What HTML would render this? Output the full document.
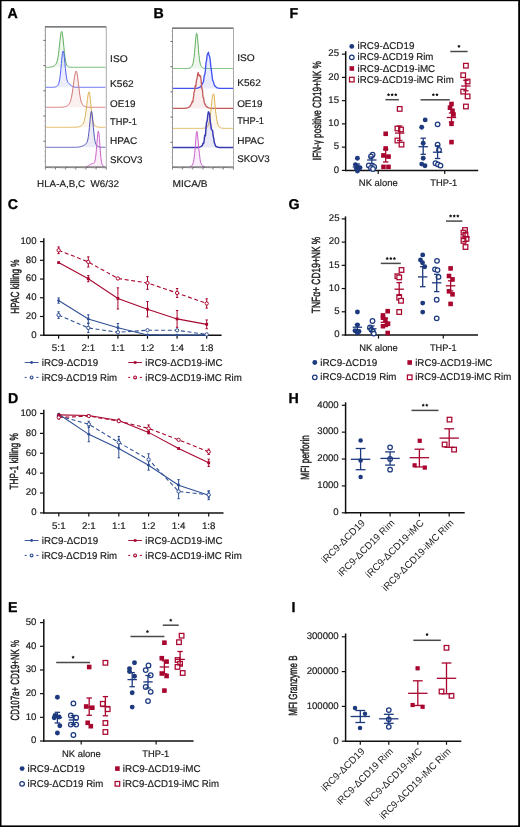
<!DOCTYPE html>
<html><head><meta charset="utf-8"><style>
html,body{margin:0;padding:0;background:#fff;}
svg{display:block;will-change:transform;}
text{font-family:"Liberation Sans", sans-serif;text-rendering:geometricPrecision;}
</style></head><body>
<svg width="520" height="827" viewBox="0 0 520 827">
<rect x="0" y="0" width="520" height="827" fill="#fff"/>
<text x="7.6" y="18.2" font-size="14.2" text-anchor="start" font-weight="bold" fill="#000" stroke="#000" stroke-width="0.3">A</text>
<path d="M45.9,67.29 L46.4,67.29 L46.9,67.29 L47.4,67.28 L47.9,67.27 L48.4,67.25 L48.9,67.23 L49.4,67.2 L49.9,67.16 L50.4,67.11 L50.9,67.04 L51.4,66.94 L51.9,66.83 L52.4,66.68 L52.9,66.5 L53.4,66.27 L53.9,66 L54.4,65.67 L54.9,65.27 L55.4,64.76 L55.9,64.1 L56.4,63.19 L56.9,61.94 L57.4,60.18 L57.9,57.78 L58.4,54.63 L58.9,50.73 L59.4,46.24 L59.9,41.52 L60.4,37.12 L60.9,33.64 L61.4,31.64 L61.9,31.48 L62.4,33.4 L62.9,37.12 L63.4,41.97 L63.9,47.22 L64.4,52.21 L64.9,56.49 L65.4,59.88 L65.9,62.37 L66.4,64.1 L66.9,65.26 L67.4,66.01 L67.9,66.48 L68.4,66.79 L68.9,66.98 L69.4,67.1 L69.9,67.18 L70.4,67.23 L70.9,67.26 L71.4,67.28 L71.9,67.29 L72.4,67.29 L72.9,67.3 L73.4,67.3 L73.9,67.3 L74.4,67.3 L74.9,67.3 L75.4,67.3 L75.9,67.3 L76.4,67.3 L76.9,67.3 L77.4,67.3 L77.9,67.3 L78.4,67.3 L78.9,67.3 L79.4,67.3 L79.9,67.3 L80.4,67.3 L80.9,67.3 L81.4,67.3 L81.9,67.3 L82.4,67.3 L82.9,67.3 L83.4,67.3 L83.9,67.3 L84.4,67.3 L84.9,67.3 L85.4,67.3 L85.9,67.3 L86.4,67.3 L86.9,67.3 L87.4,67.3 L87.9,67.3 L88.4,67.3 L88.9,67.3 L89.4,67.3 L89.9,67.3 L90.4,67.3 L90.9,67.3 L91.4,67.3 L91.9,67.3 L92.4,67.3 L92.9,67.3 L93.4,67.3 L93.9,67.3 L94.4,67.3 L94.9,67.3 L95.4,67.3 L95.9,67.3 L96.4,67.3 L96.9,67.3 L97.4,67.3 L97.9,67.3 L98.4,67.3 L98.9,67.3 L99.4,67.3 L99.9,67.3 L100.4,67.3 L100.9,67.3 L101.4,67.3 L101.9,67.3 L102.4,67.3 L102.9,67.3 L103.4,67.3 L103.9,67.3 L104.4,67.3 L104.9,67.3 L105.4,67.3 L105.4,67.3 L45.9,67.3 Z" fill="#60b060" fill-opacity="0.11" stroke="none"/>
<path d="M45.9,67.29 L46.4,67.29 L46.9,67.29 L47.4,67.28 L47.9,67.27 L48.4,67.25 L48.9,67.23 L49.4,67.2 L49.9,67.16 L50.4,67.11 L50.9,67.04 L51.4,66.94 L51.9,66.83 L52.4,66.68 L52.9,66.5 L53.4,66.27 L53.9,66 L54.4,65.67 L54.9,65.27 L55.4,64.76 L55.9,64.1 L56.4,63.19 L56.9,61.94 L57.4,60.18 L57.9,57.78 L58.4,54.63 L58.9,50.73 L59.4,46.24 L59.9,41.52 L60.4,37.12 L60.9,33.64 L61.4,31.64 L61.9,31.48 L62.4,33.4 L62.9,37.12 L63.4,41.97 L63.9,47.22 L64.4,52.21 L64.9,56.49 L65.4,59.88 L65.9,62.37 L66.4,64.1 L66.9,65.26 L67.4,66.01 L67.9,66.48 L68.4,66.79 L68.9,66.98 L69.4,67.1 L69.9,67.18 L70.4,67.23 L70.9,67.26 L71.4,67.28 L71.9,67.29 L72.4,67.29 L72.9,67.3 L73.4,67.3 L73.9,67.3 L74.4,67.3 L74.9,67.3 L75.4,67.3 L75.9,67.3 L76.4,67.3 L76.9,67.3 L77.4,67.3 L77.9,67.3 L78.4,67.3 L78.9,67.3 L79.4,67.3 L79.9,67.3 L80.4,67.3 L80.9,67.3 L81.4,67.3 L81.9,67.3 L82.4,67.3 L82.9,67.3 L83.4,67.3 L83.9,67.3 L84.4,67.3 L84.9,67.3 L85.4,67.3 L85.9,67.3 L86.4,67.3 L86.9,67.3 L87.4,67.3 L87.9,67.3 L88.4,67.3 L88.9,67.3 L89.4,67.3 L89.9,67.3 L90.4,67.3 L90.9,67.3 L91.4,67.3 L91.9,67.3 L92.4,67.3 L92.9,67.3 L93.4,67.3 L93.9,67.3 L94.4,67.3 L94.9,67.3 L95.4,67.3 L95.9,67.3 L96.4,67.3 L96.9,67.3 L97.4,67.3 L97.9,67.3 L98.4,67.3 L98.9,67.3 L99.4,67.3 L99.9,67.3 L100.4,67.3 L100.9,67.3 L101.4,67.3 L101.9,67.3 L102.4,67.3 L102.9,67.3 L103.4,67.3 L103.9,67.3 L104.4,67.3 L104.9,67.3 L105.4,67.3" fill="none" stroke="#60b060" stroke-width="1.0" stroke-linejoin="round"/>
<path d="M45.9,87.3 L46.4,87.3 L46.9,87.3 L47.4,87.3 L47.9,87.3 L48.4,87.3 L48.9,87.3 L49.4,87.3 L49.9,87.3 L50.4,87.3 L50.9,87.3 L51.4,87.3 L51.9,87.29 L52.4,87.28 L52.9,87.27 L53.4,87.25 L53.9,87.22 L54.4,87.17 L54.9,87.1 L55.4,86.99 L55.9,86.84 L56.4,86.63 L56.9,86.33 L57.4,85.92 L57.9,85.32 L58.4,84.44 L58.9,83.11 L59.4,81.1 L59.9,78.18 L60.4,74.19 L60.9,69.16 L61.4,63.51 L61.9,57.99 L62.4,53.58 L62.9,51.21 L63.4,51.37 L63.9,53.83 L64.4,58.04 L64.9,63.18 L65.4,68.39 L65.9,73.02 L66.4,76.7 L66.9,79.38 L67.4,81.17 L67.9,82.33 L68.4,83.07 L68.9,83.59 L69.4,84.01 L69.9,84.41 L70.4,84.81 L70.9,85.21 L71.4,85.61 L71.9,85.98 L72.4,86.31 L72.9,86.58 L73.4,86.8 L73.9,86.97 L74.4,87.09 L74.9,87.17 L75.4,87.22 L75.9,87.26 L76.4,87.28 L76.9,87.29 L77.4,87.29 L77.9,87.3 L78.4,87.3 L78.9,87.3 L79.4,87.3 L79.9,87.3 L80.4,87.3 L80.9,87.3 L81.4,87.3 L81.9,87.3 L82.4,87.3 L82.9,87.3 L83.4,87.3 L83.9,87.3 L84.4,87.3 L84.9,87.3 L85.4,87.3 L85.9,87.3 L86.4,87.3 L86.9,87.3 L87.4,87.3 L87.9,87.3 L88.4,87.3 L88.9,87.3 L89.4,87.3 L89.9,87.3 L90.4,87.3 L90.9,87.3 L91.4,87.3 L91.9,87.3 L92.4,87.3 L92.9,87.3 L93.4,87.3 L93.9,87.3 L94.4,87.3 L94.9,87.3 L95.4,87.3 L95.9,87.3 L96.4,87.3 L96.9,87.3 L97.4,87.3 L97.9,87.3 L98.4,87.3 L98.9,87.3 L99.4,87.3 L99.9,87.3 L100.4,87.3 L100.9,87.3 L101.4,87.3 L101.9,87.3 L102.4,87.3 L102.9,87.3 L103.4,87.3 L103.9,87.3 L104.4,87.3 L104.9,87.3 L105.4,87.3 L105.4,87.3 L45.9,87.3 Z" fill="#5060f2" fill-opacity="0.11" stroke="none"/>
<path d="M45.9,87.3 L46.4,87.3 L46.9,87.3 L47.4,87.3 L47.9,87.3 L48.4,87.3 L48.9,87.3 L49.4,87.3 L49.9,87.3 L50.4,87.3 L50.9,87.3 L51.4,87.3 L51.9,87.29 L52.4,87.28 L52.9,87.27 L53.4,87.25 L53.9,87.22 L54.4,87.17 L54.9,87.1 L55.4,86.99 L55.9,86.84 L56.4,86.63 L56.9,86.33 L57.4,85.92 L57.9,85.32 L58.4,84.44 L58.9,83.11 L59.4,81.1 L59.9,78.18 L60.4,74.19 L60.9,69.16 L61.4,63.51 L61.9,57.99 L62.4,53.58 L62.9,51.21 L63.4,51.37 L63.9,53.83 L64.4,58.04 L64.9,63.18 L65.4,68.39 L65.9,73.02 L66.4,76.7 L66.9,79.38 L67.4,81.17 L67.9,82.33 L68.4,83.07 L68.9,83.59 L69.4,84.01 L69.9,84.41 L70.4,84.81 L70.9,85.21 L71.4,85.61 L71.9,85.98 L72.4,86.31 L72.9,86.58 L73.4,86.8 L73.9,86.97 L74.4,87.09 L74.9,87.17 L75.4,87.22 L75.9,87.26 L76.4,87.28 L76.9,87.29 L77.4,87.29 L77.9,87.3 L78.4,87.3 L78.9,87.3 L79.4,87.3 L79.9,87.3 L80.4,87.3 L80.9,87.3 L81.4,87.3 L81.9,87.3 L82.4,87.3 L82.9,87.3 L83.4,87.3 L83.9,87.3 L84.4,87.3 L84.9,87.3 L85.4,87.3 L85.9,87.3 L86.4,87.3 L86.9,87.3 L87.4,87.3 L87.9,87.3 L88.4,87.3 L88.9,87.3 L89.4,87.3 L89.9,87.3 L90.4,87.3 L90.9,87.3 L91.4,87.3 L91.9,87.3 L92.4,87.3 L92.9,87.3 L93.4,87.3 L93.9,87.3 L94.4,87.3 L94.9,87.3 L95.4,87.3 L95.9,87.3 L96.4,87.3 L96.9,87.3 L97.4,87.3 L97.9,87.3 L98.4,87.3 L98.9,87.3 L99.4,87.3 L99.9,87.3 L100.4,87.3 L100.9,87.3 L101.4,87.3 L101.9,87.3 L102.4,87.3 L102.9,87.3 L103.4,87.3 L103.9,87.3 L104.4,87.3 L104.9,87.3 L105.4,87.3" fill="none" stroke="#5060f2" stroke-width="1.0" stroke-linejoin="round"/>
<path d="M45.9,107.3 L46.4,107.3 L46.9,107.3 L47.4,107.3 L47.9,107.3 L48.4,107.3 L48.9,107.3 L49.4,107.3 L49.9,107.3 L50.4,107.3 L50.9,107.3 L51.4,107.3 L51.9,107.3 L52.4,107.3 L52.9,107.3 L53.4,107.3 L53.9,107.3 L54.4,107.3 L54.9,107.3 L55.4,107.3 L55.9,107.3 L56.4,107.3 L56.9,107.3 L57.4,107.29 L57.9,107.29 L58.4,107.29 L58.9,107.28 L59.4,107.28 L59.9,107.27 L60.4,107.26 L60.9,107.24 L61.4,107.22 L61.9,107.19 L62.4,107.15 L62.9,107.11 L63.4,107.05 L63.9,106.97 L64.4,106.88 L64.9,106.77 L65.4,106.63 L65.9,106.47 L66.4,106.26 L66.9,106.02 L67.4,105.72 L67.9,105.36 L68.4,104.9 L68.9,104.31 L69.4,103.55 L69.9,102.55 L70.4,101.26 L70.9,99.6 L71.4,97.52 L71.9,94.97 L72.4,91.96 L72.9,88.57 L73.4,84.92 L73.9,81.22 L74.4,77.74 L74.9,74.75 L75.4,72.53 L75.9,71.31 L76.4,71.23 L76.9,72.63 L77.4,75.4 L77.9,79.15 L78.4,83.43 L78.9,87.79 L79.4,91.84 L79.9,95.37 L80.4,98.25 L80.9,100.5 L81.4,102.19 L81.9,103.43 L82.4,104.34 L82.9,105.02 L83.4,105.52 L83.9,105.91 L84.4,106.22 L84.9,106.46 L85.4,106.65 L85.9,106.81 L86.4,106.93 L86.9,107.03 L87.4,107.1 L87.9,107.16 L88.4,107.2 L88.9,107.23 L89.4,107.25 L89.9,107.27 L90.4,107.28 L90.9,107.29 L91.4,107.29 L91.9,107.29 L92.4,107.3 L92.9,107.3 L93.4,107.3 L93.9,107.3 L94.4,107.3 L94.9,107.3 L95.4,107.3 L95.9,107.3 L96.4,107.3 L96.9,107.3 L97.4,107.3 L97.9,107.3 L98.4,107.3 L98.9,107.3 L99.4,107.3 L99.9,107.3 L100.4,107.3 L100.9,107.3 L101.4,107.3 L101.9,107.3 L102.4,107.3 L102.9,107.3 L103.4,107.3 L103.9,107.3 L104.4,107.3 L104.9,107.3 L105.4,107.3 L105.4,107.3 L45.9,107.3 Z" fill="#d27474" fill-opacity="0.11" stroke="none"/>
<path d="M45.9,107.3 L46.4,107.3 L46.9,107.3 L47.4,107.3 L47.9,107.3 L48.4,107.3 L48.9,107.3 L49.4,107.3 L49.9,107.3 L50.4,107.3 L50.9,107.3 L51.4,107.3 L51.9,107.3 L52.4,107.3 L52.9,107.3 L53.4,107.3 L53.9,107.3 L54.4,107.3 L54.9,107.3 L55.4,107.3 L55.9,107.3 L56.4,107.3 L56.9,107.3 L57.4,107.29 L57.9,107.29 L58.4,107.29 L58.9,107.28 L59.4,107.28 L59.9,107.27 L60.4,107.26 L60.9,107.24 L61.4,107.22 L61.9,107.19 L62.4,107.15 L62.9,107.11 L63.4,107.05 L63.9,106.97 L64.4,106.88 L64.9,106.77 L65.4,106.63 L65.9,106.47 L66.4,106.26 L66.9,106.02 L67.4,105.72 L67.9,105.36 L68.4,104.9 L68.9,104.31 L69.4,103.55 L69.9,102.55 L70.4,101.26 L70.9,99.6 L71.4,97.52 L71.9,94.97 L72.4,91.96 L72.9,88.57 L73.4,84.92 L73.9,81.22 L74.4,77.74 L74.9,74.75 L75.4,72.53 L75.9,71.31 L76.4,71.23 L76.9,72.63 L77.4,75.4 L77.9,79.15 L78.4,83.43 L78.9,87.79 L79.4,91.84 L79.9,95.37 L80.4,98.25 L80.9,100.5 L81.4,102.19 L81.9,103.43 L82.4,104.34 L82.9,105.02 L83.4,105.52 L83.9,105.91 L84.4,106.22 L84.9,106.46 L85.4,106.65 L85.9,106.81 L86.4,106.93 L86.9,107.03 L87.4,107.1 L87.9,107.16 L88.4,107.2 L88.9,107.23 L89.4,107.25 L89.9,107.27 L90.4,107.28 L90.9,107.29 L91.4,107.29 L91.9,107.29 L92.4,107.3 L92.9,107.3 L93.4,107.3 L93.9,107.3 L94.4,107.3 L94.9,107.3 L95.4,107.3 L95.9,107.3 L96.4,107.3 L96.9,107.3 L97.4,107.3 L97.9,107.3 L98.4,107.3 L98.9,107.3 L99.4,107.3 L99.9,107.3 L100.4,107.3 L100.9,107.3 L101.4,107.3 L101.9,107.3 L102.4,107.3 L102.9,107.3 L103.4,107.3 L103.9,107.3 L104.4,107.3 L104.9,107.3 L105.4,107.3" fill="none" stroke="#d27474" stroke-width="1.0" stroke-linejoin="round"/>
<path d="M45.9,127.3 L46.4,127.3 L46.9,127.3 L47.4,127.3 L47.9,127.3 L48.4,127.3 L48.9,127.3 L49.4,127.3 L49.9,127.3 L50.4,127.3 L50.9,127.3 L51.4,127.3 L51.9,127.3 L52.4,127.3 L52.9,127.3 L53.4,127.3 L53.9,127.3 L54.4,127.3 L54.9,127.3 L55.4,127.3 L55.9,127.3 L56.4,127.3 L56.9,127.3 L57.4,127.3 L57.9,127.3 L58.4,127.3 L58.9,127.3 L59.4,127.3 L59.9,127.3 L60.4,127.3 L60.9,127.3 L61.4,127.3 L61.9,127.3 L62.4,127.3 L62.9,127.3 L63.4,127.3 L63.9,127.3 L64.4,127.3 L64.9,127.3 L65.4,127.3 L65.9,127.3 L66.4,127.3 L66.9,127.3 L67.4,127.3 L67.9,127.3 L68.4,127.3 L68.9,127.3 L69.4,127.3 L69.9,127.3 L70.4,127.3 L70.9,127.3 L71.4,127.3 L71.9,127.3 L72.4,127.29 L72.9,127.29 L73.4,127.29 L73.9,127.28 L74.4,127.27 L74.9,127.26 L75.4,127.24 L75.9,127.22 L76.4,127.19 L76.9,127.15 L77.4,127.09 L77.9,127.02 L78.4,126.93 L78.9,126.82 L79.4,126.67 L79.9,126.5 L80.4,126.28 L80.9,126.02 L81.4,125.7 L81.9,125.3 L82.4,124.8 L82.9,124.13 L83.4,123.24 L83.9,122.03 L84.4,120.39 L84.9,118.21 L85.4,115.41 L85.9,111.99 L86.4,108.04 L86.9,103.81 L87.4,99.64 L87.9,95.98 L88.4,93.29 L88.9,91.92 L89.4,92.27 L89.9,94.97 L90.4,99.5 L90.9,104.92 L91.4,110.28 L91.9,114.93 L92.4,118.55 L92.9,121.16 L93.4,122.95 L93.9,124.15 L94.4,124.97 L94.9,125.56 L95.4,125.99 L95.9,126.33 L96.4,126.59 L96.9,126.79 L97.4,126.94 L97.9,127.05 L98.4,127.13 L98.9,127.19 L99.4,127.23 L99.9,127.25 L100.4,127.27 L100.9,127.28 L101.4,127.29 L101.9,127.29 L102.4,127.3 L102.9,127.3 L103.4,127.3 L103.9,127.3 L104.4,127.3 L104.9,127.3 L105.4,127.3 L105.4,127.3 L45.9,127.3 Z" fill="#dfb255" fill-opacity="0.11" stroke="none"/>
<path d="M45.9,127.3 L46.4,127.3 L46.9,127.3 L47.4,127.3 L47.9,127.3 L48.4,127.3 L48.9,127.3 L49.4,127.3 L49.9,127.3 L50.4,127.3 L50.9,127.3 L51.4,127.3 L51.9,127.3 L52.4,127.3 L52.9,127.3 L53.4,127.3 L53.9,127.3 L54.4,127.3 L54.9,127.3 L55.4,127.3 L55.9,127.3 L56.4,127.3 L56.9,127.3 L57.4,127.3 L57.9,127.3 L58.4,127.3 L58.9,127.3 L59.4,127.3 L59.9,127.3 L60.4,127.3 L60.9,127.3 L61.4,127.3 L61.9,127.3 L62.4,127.3 L62.9,127.3 L63.4,127.3 L63.9,127.3 L64.4,127.3 L64.9,127.3 L65.4,127.3 L65.9,127.3 L66.4,127.3 L66.9,127.3 L67.4,127.3 L67.9,127.3 L68.4,127.3 L68.9,127.3 L69.4,127.3 L69.9,127.3 L70.4,127.3 L70.9,127.3 L71.4,127.3 L71.9,127.3 L72.4,127.29 L72.9,127.29 L73.4,127.29 L73.9,127.28 L74.4,127.27 L74.9,127.26 L75.4,127.24 L75.9,127.22 L76.4,127.19 L76.9,127.15 L77.4,127.09 L77.9,127.02 L78.4,126.93 L78.9,126.82 L79.4,126.67 L79.9,126.5 L80.4,126.28 L80.9,126.02 L81.4,125.7 L81.9,125.3 L82.4,124.8 L82.9,124.13 L83.4,123.24 L83.9,122.03 L84.4,120.39 L84.9,118.21 L85.4,115.41 L85.9,111.99 L86.4,108.04 L86.9,103.81 L87.4,99.64 L87.9,95.98 L88.4,93.29 L88.9,91.92 L89.4,92.27 L89.9,94.97 L90.4,99.5 L90.9,104.92 L91.4,110.28 L91.9,114.93 L92.4,118.55 L92.9,121.16 L93.4,122.95 L93.9,124.15 L94.4,124.97 L94.9,125.56 L95.4,125.99 L95.9,126.33 L96.4,126.59 L96.9,126.79 L97.4,126.94 L97.9,127.05 L98.4,127.13 L98.9,127.19 L99.4,127.23 L99.9,127.25 L100.4,127.27 L100.9,127.28 L101.4,127.29 L101.9,127.29 L102.4,127.3 L102.9,127.3 L103.4,127.3 L103.9,127.3 L104.4,127.3 L104.9,127.3 L105.4,127.3" fill="none" stroke="#dfb255" stroke-width="1.0" stroke-linejoin="round"/>
<path d="M45.9,147.3 L46.4,147.3 L46.9,147.3 L47.4,147.3 L47.9,147.3 L48.4,147.3 L48.9,147.3 L49.4,147.3 L49.9,147.3 L50.4,147.3 L50.9,147.3 L51.4,147.3 L51.9,147.3 L52.4,147.3 L52.9,147.3 L53.4,147.3 L53.9,147.3 L54.4,147.3 L54.9,147.3 L55.4,147.3 L55.9,147.3 L56.4,147.3 L56.9,147.3 L57.4,147.3 L57.9,147.3 L58.4,147.3 L58.9,147.3 L59.4,147.3 L59.9,147.3 L60.4,147.3 L60.9,147.3 L61.4,147.3 L61.9,147.3 L62.4,147.3 L62.9,147.3 L63.4,147.3 L63.9,147.3 L64.4,147.3 L64.9,147.3 L65.4,147.3 L65.9,147.3 L66.4,147.3 L66.9,147.3 L67.4,147.3 L67.9,147.3 L68.4,147.3 L68.9,147.3 L69.4,147.3 L69.9,147.3 L70.4,147.3 L70.9,147.3 L71.4,147.3 L71.9,147.3 L72.4,147.3 L72.9,147.3 L73.4,147.3 L73.9,147.29 L74.4,147.29 L74.9,147.28 L75.4,147.28 L75.9,147.26 L76.4,147.25 L76.9,147.22 L77.4,147.19 L77.9,147.15 L78.4,147.09 L78.9,147.02 L79.4,146.94 L79.9,146.84 L80.4,146.72 L80.9,146.58 L81.4,146.42 L81.9,146.24 L82.4,146.04 L82.9,145.82 L83.4,145.59 L83.9,145.33 L84.4,145.05 L84.9,144.73 L85.4,144.37 L85.9,143.93 L86.4,143.34 L86.9,142.5 L87.4,141.22 L87.9,139.26 L88.4,136.37 L88.9,132.42 L89.4,127.48 L89.9,122.02 L90.4,116.86 L90.9,112.98 L91.4,111.27 L91.9,112.25 L92.4,115.9 L92.9,121.33 L93.4,127.32 L93.9,132.86 L94.4,137.31 L94.9,140.54 L95.4,142.71 L95.9,144.12 L96.4,145.03 L96.9,145.65 L97.4,146.09 L97.9,146.42 L98.4,146.67 L98.9,146.85 L99.4,146.99 L99.9,147.09 L100.4,147.17 L100.9,147.21 L101.4,147.25 L101.9,147.27 L102.4,147.28 L102.9,147.29 L103.4,147.29 L103.9,147.3 L104.4,147.3 L104.9,147.3 L105.4,147.3 L105.4,147.3 L45.9,147.3 Z" fill="#5555ba" fill-opacity="0.11" stroke="none"/>
<path d="M45.9,147.3 L46.4,147.3 L46.9,147.3 L47.4,147.3 L47.9,147.3 L48.4,147.3 L48.9,147.3 L49.4,147.3 L49.9,147.3 L50.4,147.3 L50.9,147.3 L51.4,147.3 L51.9,147.3 L52.4,147.3 L52.9,147.3 L53.4,147.3 L53.9,147.3 L54.4,147.3 L54.9,147.3 L55.4,147.3 L55.9,147.3 L56.4,147.3 L56.9,147.3 L57.4,147.3 L57.9,147.3 L58.4,147.3 L58.9,147.3 L59.4,147.3 L59.9,147.3 L60.4,147.3 L60.9,147.3 L61.4,147.3 L61.9,147.3 L62.4,147.3 L62.9,147.3 L63.4,147.3 L63.9,147.3 L64.4,147.3 L64.9,147.3 L65.4,147.3 L65.9,147.3 L66.4,147.3 L66.9,147.3 L67.4,147.3 L67.9,147.3 L68.4,147.3 L68.9,147.3 L69.4,147.3 L69.9,147.3 L70.4,147.3 L70.9,147.3 L71.4,147.3 L71.9,147.3 L72.4,147.3 L72.9,147.3 L73.4,147.3 L73.9,147.29 L74.4,147.29 L74.9,147.28 L75.4,147.28 L75.9,147.26 L76.4,147.25 L76.9,147.22 L77.4,147.19 L77.9,147.15 L78.4,147.09 L78.9,147.02 L79.4,146.94 L79.9,146.84 L80.4,146.72 L80.9,146.58 L81.4,146.42 L81.9,146.24 L82.4,146.04 L82.9,145.82 L83.4,145.59 L83.9,145.33 L84.4,145.05 L84.9,144.73 L85.4,144.37 L85.9,143.93 L86.4,143.34 L86.9,142.5 L87.4,141.22 L87.9,139.26 L88.4,136.37 L88.9,132.42 L89.4,127.48 L89.9,122.02 L90.4,116.86 L90.9,112.98 L91.4,111.27 L91.9,112.25 L92.4,115.9 L92.9,121.33 L93.4,127.32 L93.9,132.86 L94.4,137.31 L94.9,140.54 L95.4,142.71 L95.9,144.12 L96.4,145.03 L96.9,145.65 L97.4,146.09 L97.9,146.42 L98.4,146.67 L98.9,146.85 L99.4,146.99 L99.9,147.09 L100.4,147.17 L100.9,147.21 L101.4,147.25 L101.9,147.27 L102.4,147.28 L102.9,147.29 L103.4,147.29 L103.9,147.3 L104.4,147.3 L104.9,147.3 L105.4,147.3" fill="none" stroke="#5555ba" stroke-width="1.0" stroke-linejoin="round"/>
<path d="M86.4,166.65 L86.9,166.49 L87.4,166.28 L87.9,166.02 L88.4,165.72 L88.9,165.38 L89.4,165.02 L89.9,164.67 L90.4,164.34 L90.9,164.06 L91.4,163.85 L91.9,163.7 L92.4,163.61 L92.9,163.55 L93.4,163.43 L93.9,163.16 L94.4,162.52 L94.9,161.21 L95.4,158.83 L95.9,155.05 L96.4,149.78 L96.9,143.5 L97.4,137.32 L97.9,132.74 L98.4,131.08 L98.9,133.11 L99.4,138.42 L99.9,145.34 L100.4,152.1 L100.9,157.53 L101.4,161.29 L101.9,163.61 L102.4,164.96 L102.9,165.74 L103.4,166.2 L103.9,166.49 L104.4,166.68 L104.4,167 L86.4,167 Z" fill="#cc64cc" fill-opacity="0.11" stroke="none"/>
<path d="M86.4,166.65 L86.9,166.49 L87.4,166.28 L87.9,166.02 L88.4,165.72 L88.9,165.38 L89.4,165.02 L89.9,164.67 L90.4,164.34 L90.9,164.06 L91.4,163.85 L91.9,163.7 L92.4,163.61 L92.9,163.55 L93.4,163.43 L93.9,163.16 L94.4,162.52 L94.9,161.21 L95.4,158.83 L95.9,155.05 L96.4,149.78 L96.9,143.5 L97.4,137.32 L97.9,132.74 L98.4,131.08 L98.9,133.11 L99.4,138.42 L99.9,145.34 L100.4,152.1 L100.9,157.53 L101.4,161.29 L101.9,163.61 L102.4,164.96 L102.9,165.74 L103.4,166.2 L103.9,166.49 L104.4,166.68" fill="none" stroke="#cc64cc" stroke-width="1.0" stroke-linejoin="round"/>
<line x1="44.9" y1="26.8" x2="106.3" y2="26.8" stroke="#505050" stroke-width="1.3"/>
<line x1="45.4" y1="167.2" x2="106.3" y2="167.2" stroke="#505050" stroke-width="1.2"/>
<line x1="45.4" y1="26.8" x2="45.4" y2="167.2" stroke="#8c8c8c" stroke-width="0.9"/>
<line x1="106.3" y1="26.8" x2="106.3" y2="167.2" stroke="#a0a0a0" stroke-width="0.9"/>
<line x1="44.4" y1="30.32" x2="45.4" y2="30.32" stroke="#999" stroke-width="0.6"/>
<line x1="44.4" y1="35.36" x2="45.4" y2="35.36" stroke="#999" stroke-width="0.6"/>
<line x1="43.4" y1="40.4" x2="45.4" y2="40.4" stroke="#555" stroke-width="0.9"/>
<line x1="44.4" y1="45.44" x2="45.4" y2="45.44" stroke="#999" stroke-width="0.6"/>
<line x1="44.4" y1="50.48" x2="45.4" y2="50.48" stroke="#999" stroke-width="0.6"/>
<line x1="44.4" y1="55.52" x2="45.4" y2="55.52" stroke="#999" stroke-width="0.6"/>
<line x1="44.4" y1="60.56" x2="45.4" y2="60.56" stroke="#999" stroke-width="0.6"/>
<line x1="43.4" y1="65.6" x2="45.4" y2="65.6" stroke="#555" stroke-width="0.9"/>
<line x1="44.4" y1="70.64" x2="45.4" y2="70.64" stroke="#999" stroke-width="0.6"/>
<line x1="44.4" y1="75.68" x2="45.4" y2="75.68" stroke="#999" stroke-width="0.6"/>
<line x1="44.4" y1="80.72" x2="45.4" y2="80.72" stroke="#999" stroke-width="0.6"/>
<line x1="44.4" y1="85.76" x2="45.4" y2="85.76" stroke="#999" stroke-width="0.6"/>
<line x1="43.4" y1="90.8" x2="45.4" y2="90.8" stroke="#555" stroke-width="0.9"/>
<line x1="44.4" y1="95.84" x2="45.4" y2="95.84" stroke="#999" stroke-width="0.6"/>
<line x1="44.4" y1="100.88" x2="45.4" y2="100.88" stroke="#999" stroke-width="0.6"/>
<line x1="44.4" y1="105.92" x2="45.4" y2="105.92" stroke="#999" stroke-width="0.6"/>
<line x1="44.4" y1="110.96" x2="45.4" y2="110.96" stroke="#999" stroke-width="0.6"/>
<line x1="43.4" y1="116" x2="45.4" y2="116" stroke="#555" stroke-width="0.9"/>
<line x1="44.4" y1="121.04" x2="45.4" y2="121.04" stroke="#999" stroke-width="0.6"/>
<line x1="44.4" y1="126.08" x2="45.4" y2="126.08" stroke="#999" stroke-width="0.6"/>
<line x1="44.4" y1="131.12" x2="45.4" y2="131.12" stroke="#999" stroke-width="0.6"/>
<line x1="44.4" y1="136.16" x2="45.4" y2="136.16" stroke="#999" stroke-width="0.6"/>
<line x1="43.4" y1="141.2" x2="45.4" y2="141.2" stroke="#555" stroke-width="0.9"/>
<line x1="44.4" y1="146.24" x2="45.4" y2="146.24" stroke="#999" stroke-width="0.6"/>
<line x1="44.4" y1="151.28" x2="45.4" y2="151.28" stroke="#999" stroke-width="0.6"/>
<line x1="44.4" y1="156.32" x2="45.4" y2="156.32" stroke="#999" stroke-width="0.6"/>
<line x1="44.4" y1="161.36" x2="45.4" y2="161.36" stroke="#999" stroke-width="0.6"/>
<line x1="45.4" y1="167.2" x2="45.4" y2="169.6" stroke="#666" stroke-width="0.8"/>
<line x1="48.46" y1="167.2" x2="48.46" y2="168.5" stroke="#aaa" stroke-width="0.5"/>
<line x1="50.24" y1="167.2" x2="50.24" y2="168.5" stroke="#aaa" stroke-width="0.5"/>
<line x1="51.51" y1="167.2" x2="51.51" y2="168.5" stroke="#aaa" stroke-width="0.5"/>
<line x1="52.49" y1="167.2" x2="52.49" y2="168.5" stroke="#aaa" stroke-width="0.5"/>
<line x1="53.3" y1="167.2" x2="53.3" y2="168.5" stroke="#aaa" stroke-width="0.5"/>
<line x1="53.98" y1="167.2" x2="53.98" y2="168.5" stroke="#aaa" stroke-width="0.5"/>
<line x1="54.57" y1="167.2" x2="54.57" y2="168.5" stroke="#aaa" stroke-width="0.5"/>
<line x1="55.09" y1="167.2" x2="55.09" y2="168.5" stroke="#aaa" stroke-width="0.5"/>
<line x1="55.55" y1="167.2" x2="55.55" y2="169.6" stroke="#666" stroke-width="0.8"/>
<line x1="58.61" y1="167.2" x2="58.61" y2="168.5" stroke="#aaa" stroke-width="0.5"/>
<line x1="60.39" y1="167.2" x2="60.39" y2="168.5" stroke="#aaa" stroke-width="0.5"/>
<line x1="61.66" y1="167.2" x2="61.66" y2="168.5" stroke="#aaa" stroke-width="0.5"/>
<line x1="62.64" y1="167.2" x2="62.64" y2="168.5" stroke="#aaa" stroke-width="0.5"/>
<line x1="63.45" y1="167.2" x2="63.45" y2="168.5" stroke="#aaa" stroke-width="0.5"/>
<line x1="64.13" y1="167.2" x2="64.13" y2="168.5" stroke="#aaa" stroke-width="0.5"/>
<line x1="64.72" y1="167.2" x2="64.72" y2="168.5" stroke="#aaa" stroke-width="0.5"/>
<line x1="65.24" y1="167.2" x2="65.24" y2="168.5" stroke="#aaa" stroke-width="0.5"/>
<line x1="65.7" y1="167.2" x2="65.7" y2="169.6" stroke="#666" stroke-width="0.8"/>
<line x1="68.76" y1="167.2" x2="68.76" y2="168.5" stroke="#aaa" stroke-width="0.5"/>
<line x1="70.54" y1="167.2" x2="70.54" y2="168.5" stroke="#aaa" stroke-width="0.5"/>
<line x1="71.81" y1="167.2" x2="71.81" y2="168.5" stroke="#aaa" stroke-width="0.5"/>
<line x1="72.79" y1="167.2" x2="72.79" y2="168.5" stroke="#aaa" stroke-width="0.5"/>
<line x1="73.6" y1="167.2" x2="73.6" y2="168.5" stroke="#aaa" stroke-width="0.5"/>
<line x1="74.28" y1="167.2" x2="74.28" y2="168.5" stroke="#aaa" stroke-width="0.5"/>
<line x1="74.87" y1="167.2" x2="74.87" y2="168.5" stroke="#aaa" stroke-width="0.5"/>
<line x1="75.39" y1="167.2" x2="75.39" y2="168.5" stroke="#aaa" stroke-width="0.5"/>
<line x1="75.85" y1="167.2" x2="75.85" y2="169.6" stroke="#666" stroke-width="0.8"/>
<line x1="78.91" y1="167.2" x2="78.91" y2="168.5" stroke="#aaa" stroke-width="0.5"/>
<line x1="80.69" y1="167.2" x2="80.69" y2="168.5" stroke="#aaa" stroke-width="0.5"/>
<line x1="81.96" y1="167.2" x2="81.96" y2="168.5" stroke="#aaa" stroke-width="0.5"/>
<line x1="82.94" y1="167.2" x2="82.94" y2="168.5" stroke="#aaa" stroke-width="0.5"/>
<line x1="83.75" y1="167.2" x2="83.75" y2="168.5" stroke="#aaa" stroke-width="0.5"/>
<line x1="84.43" y1="167.2" x2="84.43" y2="168.5" stroke="#aaa" stroke-width="0.5"/>
<line x1="85.02" y1="167.2" x2="85.02" y2="168.5" stroke="#aaa" stroke-width="0.5"/>
<line x1="85.54" y1="167.2" x2="85.54" y2="168.5" stroke="#aaa" stroke-width="0.5"/>
<line x1="86" y1="167.2" x2="86" y2="169.6" stroke="#666" stroke-width="0.8"/>
<line x1="89.06" y1="167.2" x2="89.06" y2="168.5" stroke="#aaa" stroke-width="0.5"/>
<line x1="90.84" y1="167.2" x2="90.84" y2="168.5" stroke="#aaa" stroke-width="0.5"/>
<line x1="92.11" y1="167.2" x2="92.11" y2="168.5" stroke="#aaa" stroke-width="0.5"/>
<line x1="93.09" y1="167.2" x2="93.09" y2="168.5" stroke="#aaa" stroke-width="0.5"/>
<line x1="93.9" y1="167.2" x2="93.9" y2="168.5" stroke="#aaa" stroke-width="0.5"/>
<line x1="94.58" y1="167.2" x2="94.58" y2="168.5" stroke="#aaa" stroke-width="0.5"/>
<line x1="95.17" y1="167.2" x2="95.17" y2="168.5" stroke="#aaa" stroke-width="0.5"/>
<line x1="95.69" y1="167.2" x2="95.69" y2="168.5" stroke="#aaa" stroke-width="0.5"/>
<line x1="96.15" y1="167.2" x2="96.15" y2="169.6" stroke="#666" stroke-width="0.8"/>
<line x1="99.21" y1="167.2" x2="99.21" y2="168.5" stroke="#aaa" stroke-width="0.5"/>
<line x1="100.99" y1="167.2" x2="100.99" y2="168.5" stroke="#aaa" stroke-width="0.5"/>
<line x1="102.26" y1="167.2" x2="102.26" y2="168.5" stroke="#aaa" stroke-width="0.5"/>
<line x1="103.24" y1="167.2" x2="103.24" y2="168.5" stroke="#aaa" stroke-width="0.5"/>
<line x1="104.05" y1="167.2" x2="104.05" y2="168.5" stroke="#aaa" stroke-width="0.5"/>
<line x1="104.73" y1="167.2" x2="104.73" y2="168.5" stroke="#aaa" stroke-width="0.5"/>
<line x1="105.32" y1="167.2" x2="105.32" y2="168.5" stroke="#aaa" stroke-width="0.5"/>
<line x1="105.84" y1="167.2" x2="105.84" y2="168.5" stroke="#aaa" stroke-width="0.5"/>
<line x1="106.3" y1="167.2" x2="106.3" y2="169.6" stroke="#666" stroke-width="0.8"/>
<text x="110.07" y="61.7" font-size="9.7" text-anchor="start" font-weight="normal" fill="#1c1c1c" textLength="17.57" lengthAdjust="spacingAndGlyphs" stroke="#1c1c1c" stroke-width="0.18">ISO</text>
<text x="110.07" y="86.8" font-size="9.7" text-anchor="start" font-weight="normal" fill="#1c1c1c" textLength="23.67" lengthAdjust="spacingAndGlyphs" stroke="#1c1c1c" stroke-width="0.18">K562</text>
<text x="110.07" y="107.2" font-size="9.7" text-anchor="start" font-weight="normal" fill="#1c1c1c" textLength="25.37" lengthAdjust="spacingAndGlyphs" stroke="#1c1c1c" stroke-width="0.18">OE19</text>
<text x="110.07" y="124.9" font-size="9.7" text-anchor="start" font-weight="normal" fill="#1c1c1c" textLength="26.77" lengthAdjust="spacingAndGlyphs" stroke="#1c1c1c" stroke-width="0.18">THP-1</text>
<text x="110.07" y="144.4" font-size="9.7" text-anchor="start" font-weight="normal" fill="#1c1c1c" textLength="27.17" lengthAdjust="spacingAndGlyphs" stroke="#1c1c1c" stroke-width="0.18">HPAC</text>
<text x="110.07" y="162.5" font-size="9.7" text-anchor="start" font-weight="normal" fill="#1c1c1c" textLength="32.47" lengthAdjust="spacingAndGlyphs" stroke="#1c1c1c" stroke-width="0.18">SKOV3</text>
<text x="37.07" y="186.7" font-size="9.7" text-anchor="start" font-weight="normal" fill="#1c1c1c" textLength="81.87" lengthAdjust="spacingAndGlyphs" stroke="#1c1c1c" stroke-width="0.18">HLA-A,B,C&#160;&#160;W6/32</text>
<text x="153.4" y="18.3" font-size="14.2" text-anchor="start" font-weight="bold" fill="#000" stroke="#000" stroke-width="0.3">B</text>
<path d="M173,68.5 L173.5,68.5 L174,68.5 L174.5,68.5 L175,68.5 L175.5,68.5 L176,68.5 L176.5,68.5 L177,68.5 L177.5,68.5 L178,68.5 L178.5,68.5 L179,68.5 L179.5,68.5 L180,68.5 L180.5,68.5 L181,68.5 L181.5,68.5 L182,68.5 L182.5,68.5 L183,68.5 L183.5,68.5 L184,68.5 L184.5,68.5 L185,68.5 L185.5,68.5 L186,68.49 L186.5,68.49 L187,68.47 L187.5,68.45 L188,68.42 L188.5,68.36 L189,68.27 L189.5,68.13 L190,67.94 L190.5,67.66 L191,67.28 L191.5,66.75 L192,66.03 L192.5,64.98 L193,63.41 L193.5,61.04 L194,57.56 L194.5,52.83 L195,47.06 L195.5,41.04 L196,36.01 L196.5,33.26 L197,33.66 L197.5,37.4 L198,43.32 L198.5,49.79 L199,55.49 L199.5,59.8 L200,62.73 L200.5,64.63 L201,65.86 L201.5,66.68 L202,67.26 L202.5,67.67 L203,67.96 L203.5,68.16 L204,68.29 L204.5,68.38 L205,68.43 L205.5,68.46 L206,68.48 L206.5,68.49 L207,68.5 L207.5,68.5 L208,68.5 L208.5,68.5 L209,68.5 L209.5,68.5 L210,68.5 L210.5,68.5 L211,68.5 L211.5,68.5 L212,68.5 L212.5,68.5 L213,68.5 L213.5,68.5 L214,68.5 L214.5,68.5 L215,68.5 L215.5,68.5 L216,68.5 L216.5,68.5 L217,68.5 L217.5,68.5 L218,68.5 L218.5,68.5 L219,68.5 L219.5,68.5 L220,68.5 L220.5,68.5 L221,68.5 L221.5,68.5 L222,68.5 L222.5,68.5 L223,68.5 L223.5,68.5 L224,68.5 L224.5,68.5 L225,68.5 L225.5,68.5 L226,68.5 L226.5,68.5 L227,68.5 L227.5,68.5 L228,68.5 L228.5,68.5 L229,68.5 L229.5,68.5 L230,68.5 L230.5,68.5 L231,68.5 L231.5,68.5 L232,68.5 L232.5,68.5 L233,68.5 L233,68.5 L173,68.5 Z" fill="#60b060" fill-opacity="0.11" stroke="none"/>
<path d="M173,68.5 L173.5,68.5 L174,68.5 L174.5,68.5 L175,68.5 L175.5,68.5 L176,68.5 L176.5,68.5 L177,68.5 L177.5,68.5 L178,68.5 L178.5,68.5 L179,68.5 L179.5,68.5 L180,68.5 L180.5,68.5 L181,68.5 L181.5,68.5 L182,68.5 L182.5,68.5 L183,68.5 L183.5,68.5 L184,68.5 L184.5,68.5 L185,68.5 L185.5,68.5 L186,68.49 L186.5,68.49 L187,68.47 L187.5,68.45 L188,68.42 L188.5,68.36 L189,68.27 L189.5,68.13 L190,67.94 L190.5,67.66 L191,67.28 L191.5,66.75 L192,66.03 L192.5,64.98 L193,63.41 L193.5,61.04 L194,57.56 L194.5,52.83 L195,47.06 L195.5,41.04 L196,36.01 L196.5,33.26 L197,33.66 L197.5,37.4 L198,43.32 L198.5,49.79 L199,55.49 L199.5,59.8 L200,62.73 L200.5,64.63 L201,65.86 L201.5,66.68 L202,67.26 L202.5,67.67 L203,67.96 L203.5,68.16 L204,68.29 L204.5,68.38 L205,68.43 L205.5,68.46 L206,68.48 L206.5,68.49 L207,68.5 L207.5,68.5 L208,68.5 L208.5,68.5 L209,68.5 L209.5,68.5 L210,68.5 L210.5,68.5 L211,68.5 L211.5,68.5 L212,68.5 L212.5,68.5 L213,68.5 L213.5,68.5 L214,68.5 L214.5,68.5 L215,68.5 L215.5,68.5 L216,68.5 L216.5,68.5 L217,68.5 L217.5,68.5 L218,68.5 L218.5,68.5 L219,68.5 L219.5,68.5 L220,68.5 L220.5,68.5 L221,68.5 L221.5,68.5 L222,68.5 L222.5,68.5 L223,68.5 L223.5,68.5 L224,68.5 L224.5,68.5 L225,68.5 L225.5,68.5 L226,68.5 L226.5,68.5 L227,68.5 L227.5,68.5 L228,68.5 L228.5,68.5 L229,68.5 L229.5,68.5 L230,68.5 L230.5,68.5 L231,68.5 L231.5,68.5 L232,68.5 L232.5,68.5 L233,68.5" fill="none" stroke="#60b060" stroke-width="1.0" stroke-linejoin="round"/>
<path d="M173,88.4 L173.6,88.4 L174.2,88.4 L174.8,88.4 L175.4,88.4 L176,88.4 L176.6,88.4 L177.2,88.4 L177.8,88.4 L178.4,88.4 L179,88.4 L179.6,88.4 L180.2,88.4 L180.8,88.4 L181.4,88.4 L182,88.4 L182.6,88.4 L183.2,88.4 L183.8,88.4 L184.4,88.4 L185,88.4 L185.6,88.4 L186.2,88.4 L186.8,88.4 L187.4,88.4 L188,88.4 L188.6,88.4 L189.2,88.4 L189.8,88.4 L190.4,88.4 L191,88.4 L191.6,88.4 L192.2,88.4 L192.8,88.4 L193.4,88.39 L194,88.39 L194.6,88.38 L195.2,88.36 L195.8,88.33 L196.4,88.29 L197,88.22 L197.6,88.12 L198.2,87.97 L198.8,87.76 L199.4,87.46 L200,87.17 L200.6,86.5 L201.2,85.91 L201.8,84.75 L202.4,83.44 L203,82.84 L203.6,81.11 L204.2,75.85 L204.8,74.58 L205.4,70.52 L206,62.58 L206.6,60.32 L207.2,54.77 L207.8,53.66 L208.4,52.2 L209,55.29 L209.6,56.36 L210.2,59.91 L210.8,66.52 L211.4,70.45 L212,75.04 L212.6,80.31 L213.2,81.06 L213.8,83.35 L214.4,85.08 L215,86.25 L215.6,86.44 L216.2,87.2 L216.8,87.59 L217.4,87.87 L218,88.07 L218.6,88.19 L219.2,88.28 L219.8,88.33 L220.4,88.36 L221,88.38 L221.6,88.39 L222.2,88.39 L222.8,88.4 L223.4,88.4 L224,88.4 L224.6,88.4 L225.2,88.4 L225.8,88.4 L226.4,88.4 L227,88.4 L227.6,88.4 L228.2,88.4 L228.8,88.4 L229.4,88.4 L230,88.4 L230.6,88.4 L231.2,88.4 L231.8,88.4 L232.4,88.4 L233,88.4 L233,88.4 L173,88.4 Z" fill="#4253f4" fill-opacity="0.11" stroke="none"/>
<path d="M173,88.4 L173.6,88.4 L174.2,88.4 L174.8,88.4 L175.4,88.4 L176,88.4 L176.6,88.4 L177.2,88.4 L177.8,88.4 L178.4,88.4 L179,88.4 L179.6,88.4 L180.2,88.4 L180.8,88.4 L181.4,88.4 L182,88.4 L182.6,88.4 L183.2,88.4 L183.8,88.4 L184.4,88.4 L185,88.4 L185.6,88.4 L186.2,88.4 L186.8,88.4 L187.4,88.4 L188,88.4 L188.6,88.4 L189.2,88.4 L189.8,88.4 L190.4,88.4 L191,88.4 L191.6,88.4 L192.2,88.4 L192.8,88.4 L193.4,88.39 L194,88.39 L194.6,88.38 L195.2,88.36 L195.8,88.33 L196.4,88.29 L197,88.22 L197.6,88.12 L198.2,87.97 L198.8,87.76 L199.4,87.46 L200,87.17 L200.6,86.5 L201.2,85.91 L201.8,84.75 L202.4,83.44 L203,82.84 L203.6,81.11 L204.2,75.85 L204.8,74.58 L205.4,70.52 L206,62.58 L206.6,60.32 L207.2,54.77 L207.8,53.66 L208.4,52.2 L209,55.29 L209.6,56.36 L210.2,59.91 L210.8,66.52 L211.4,70.45 L212,75.04 L212.6,80.31 L213.2,81.06 L213.8,83.35 L214.4,85.08 L215,86.25 L215.6,86.44 L216.2,87.2 L216.8,87.59 L217.4,87.87 L218,88.07 L218.6,88.19 L219.2,88.28 L219.8,88.33 L220.4,88.36 L221,88.38 L221.6,88.39 L222.2,88.39 L222.8,88.4 L223.4,88.4 L224,88.4 L224.6,88.4 L225.2,88.4 L225.8,88.4 L226.4,88.4 L227,88.4 L227.6,88.4 L228.2,88.4 L228.8,88.4 L229.4,88.4 L230,88.4 L230.6,88.4 L231.2,88.4 L231.8,88.4 L232.4,88.4 L233,88.4" fill="none" stroke="#4253f4" stroke-width="1.35" stroke-linejoin="round"/>
<path d="M173,108.4 L173.6,108.4 L174.2,108.4 L174.8,108.4 L175.4,108.4 L176,108.4 L176.6,108.4 L177.2,108.4 L177.8,108.4 L178.4,108.4 L179,108.4 L179.6,108.4 L180.2,108.39 L180.8,108.39 L181.4,108.38 L182,108.38 L182.6,108.36 L183.2,108.35 L183.8,108.33 L184.4,108.3 L185,108.25 L185.6,108.2 L186.2,108.13 L186.8,108.03 L187.4,107.89 L188,107.71 L188.6,107.47 L189.2,107.06 L189.8,106.49 L190.4,105.73 L191,104.54 L191.6,103.51 L192.2,101.34 L192.8,101.98 L193.4,98.09 L194,92.51 L194.6,90.72 L195.2,85.53 L195.8,86.45 L196.4,80.65 L197,78.72 L197.6,74.36 L198.2,72.53 L198.8,75.32 L199.4,74.84 L200,76.6 L200.6,76.03 L201.2,80.93 L201.8,88.89 L202.4,89.32 L203,97 L203.6,97.82 L204.2,102.17 L204.8,104.21 L205.4,104.1 L206,106.11 L206.6,106.8 L207.2,106.87 L207.8,107.51 L208.4,107.77 L209,107.96 L209.6,108.09 L210.2,108.18 L210.8,108.25 L211.4,108.3 L212,108.33 L212.6,108.35 L213.2,108.37 L213.8,108.38 L214.4,108.39 L215,108.39 L215.6,108.4 L216.2,108.4 L216.8,108.4 L217.4,108.4 L218,108.4 L218.6,108.4 L219.2,108.4 L219.8,108.4 L220.4,108.4 L221,108.4 L221.6,108.4 L222.2,108.4 L222.8,108.4 L223.4,108.4 L224,108.4 L224.6,108.4 L225.2,108.4 L225.8,108.4 L226.4,108.4 L227,108.4 L227.6,108.4 L228.2,108.4 L228.8,108.4 L229.4,108.4 L230,108.4 L230.6,108.4 L231.2,108.4 L231.8,108.4 L232.4,108.4 L233,108.4 L233,108.4 L173,108.4 Z" fill="#c45a5a" fill-opacity="0.11" stroke="none"/>
<path d="M173,108.4 L173.6,108.4 L174.2,108.4 L174.8,108.4 L175.4,108.4 L176,108.4 L176.6,108.4 L177.2,108.4 L177.8,108.4 L178.4,108.4 L179,108.4 L179.6,108.4 L180.2,108.39 L180.8,108.39 L181.4,108.38 L182,108.38 L182.6,108.36 L183.2,108.35 L183.8,108.33 L184.4,108.3 L185,108.25 L185.6,108.2 L186.2,108.13 L186.8,108.03 L187.4,107.89 L188,107.71 L188.6,107.47 L189.2,107.06 L189.8,106.49 L190.4,105.73 L191,104.54 L191.6,103.51 L192.2,101.34 L192.8,101.98 L193.4,98.09 L194,92.51 L194.6,90.72 L195.2,85.53 L195.8,86.45 L196.4,80.65 L197,78.72 L197.6,74.36 L198.2,72.53 L198.8,75.32 L199.4,74.84 L200,76.6 L200.6,76.03 L201.2,80.93 L201.8,88.89 L202.4,89.32 L203,97 L203.6,97.82 L204.2,102.17 L204.8,104.21 L205.4,104.1 L206,106.11 L206.6,106.8 L207.2,106.87 L207.8,107.51 L208.4,107.77 L209,107.96 L209.6,108.09 L210.2,108.18 L210.8,108.25 L211.4,108.3 L212,108.33 L212.6,108.35 L213.2,108.37 L213.8,108.38 L214.4,108.39 L215,108.39 L215.6,108.4 L216.2,108.4 L216.8,108.4 L217.4,108.4 L218,108.4 L218.6,108.4 L219.2,108.4 L219.8,108.4 L220.4,108.4 L221,108.4 L221.6,108.4 L222.2,108.4 L222.8,108.4 L223.4,108.4 L224,108.4 L224.6,108.4 L225.2,108.4 L225.8,108.4 L226.4,108.4 L227,108.4 L227.6,108.4 L228.2,108.4 L228.8,108.4 L229.4,108.4 L230,108.4 L230.6,108.4 L231.2,108.4 L231.8,108.4 L232.4,108.4 L233,108.4" fill="none" stroke="#c45a5a" stroke-width="1.3" stroke-linejoin="round"/>
<path d="M173,128.4 L173.6,128.4 L174.2,128.4 L174.8,128.4 L175.4,128.4 L176,128.4 L176.6,128.4 L177.2,128.4 L177.8,128.4 L178.4,128.4 L179,128.4 L179.6,128.4 L180.2,128.4 L180.8,128.4 L181.4,128.4 L182,128.4 L182.6,128.4 L183.2,128.4 L183.8,128.4 L184.4,128.4 L185,128.4 L185.6,128.4 L186.2,128.4 L186.8,128.4 L187.4,128.4 L188,128.4 L188.6,128.4 L189.2,128.4 L189.8,128.4 L190.4,128.4 L191,128.4 L191.6,128.4 L192.2,128.4 L192.8,128.4 L193.4,128.4 L194,128.4 L194.6,128.4 L195.2,128.4 L195.8,128.4 L196.4,128.4 L197,128.4 L197.6,128.4 L198.2,128.4 L198.8,128.4 L199.4,128.4 L200,128.39 L200.6,128.39 L201.2,128.38 L201.8,128.36 L202.4,128.33 L203,128.29 L203.6,128.23 L204.2,128.13 L204.8,128 L205.4,127.81 L206,127.55 L206.6,127.24 L207.2,126.82 L207.8,125.85 L208.4,125.13 L209,122.92 L209.6,120.43 L210.2,117.39 L210.8,110.95 L211.4,106.46 L212,99.34 L212.6,96.02 L213.2,93.95 L213.8,94.02 L214.4,96.88 L215,105.12 L215.6,111.17 L216.2,115.53 L216.8,119.32 L217.4,122.97 L218,125 L218.6,125.83 L219.2,126.97 L219.8,127.21 L220.4,127.64 L221,127.89 L221.6,128.06 L222.2,128.18 L222.8,128.26 L223.4,128.32 L224,128.35 L224.6,128.37 L225.2,128.38 L225.8,128.39 L226.4,128.4 L227,128.4 L227.6,128.4 L228.2,128.4 L228.8,128.4 L229.4,128.4 L230,128.4 L230.6,128.4 L231.2,128.4 L231.8,128.4 L232.4,128.4 L233,128.4 L233,128.4 L173,128.4 Z" fill="#dfb255" fill-opacity="0.11" stroke="none"/>
<path d="M173,128.4 L173.6,128.4 L174.2,128.4 L174.8,128.4 L175.4,128.4 L176,128.4 L176.6,128.4 L177.2,128.4 L177.8,128.4 L178.4,128.4 L179,128.4 L179.6,128.4 L180.2,128.4 L180.8,128.4 L181.4,128.4 L182,128.4 L182.6,128.4 L183.2,128.4 L183.8,128.4 L184.4,128.4 L185,128.4 L185.6,128.4 L186.2,128.4 L186.8,128.4 L187.4,128.4 L188,128.4 L188.6,128.4 L189.2,128.4 L189.8,128.4 L190.4,128.4 L191,128.4 L191.6,128.4 L192.2,128.4 L192.8,128.4 L193.4,128.4 L194,128.4 L194.6,128.4 L195.2,128.4 L195.8,128.4 L196.4,128.4 L197,128.4 L197.6,128.4 L198.2,128.4 L198.8,128.4 L199.4,128.4 L200,128.39 L200.6,128.39 L201.2,128.38 L201.8,128.36 L202.4,128.33 L203,128.29 L203.6,128.23 L204.2,128.13 L204.8,128 L205.4,127.81 L206,127.55 L206.6,127.24 L207.2,126.82 L207.8,125.85 L208.4,125.13 L209,122.92 L209.6,120.43 L210.2,117.39 L210.8,110.95 L211.4,106.46 L212,99.34 L212.6,96.02 L213.2,93.95 L213.8,94.02 L214.4,96.88 L215,105.12 L215.6,111.17 L216.2,115.53 L216.8,119.32 L217.4,122.97 L218,125 L218.6,125.83 L219.2,126.97 L219.8,127.21 L220.4,127.64 L221,127.89 L221.6,128.06 L222.2,128.18 L222.8,128.26 L223.4,128.32 L224,128.35 L224.6,128.37 L225.2,128.38 L225.8,128.39 L226.4,128.4 L227,128.4 L227.6,128.4 L228.2,128.4 L228.8,128.4 L229.4,128.4 L230,128.4 L230.6,128.4 L231.2,128.4 L231.8,128.4 L232.4,128.4 L233,128.4" fill="none" stroke="#dfb255" stroke-width="1.0" stroke-linejoin="round"/>
<path d="M173,147.6 L173.6,147.6 L174.2,147.6 L174.8,147.6 L175.4,147.6 L176,147.6 L176.6,147.6 L177.2,147.6 L177.8,147.6 L178.4,147.6 L179,147.6 L179.6,147.6 L180.2,147.6 L180.8,147.6 L181.4,147.6 L182,147.6 L182.6,147.6 L183.2,147.6 L183.8,147.6 L184.4,147.6 L185,147.6 L185.6,147.6 L186.2,147.6 L186.8,147.6 L187.4,147.6 L188,147.6 L188.6,147.6 L189.2,147.6 L189.8,147.6 L190.4,147.6 L191,147.6 L191.6,147.6 L192.2,147.6 L192.8,147.6 L193.4,147.6 L194,147.59 L194.6,147.59 L195.2,147.58 L195.8,147.57 L196.4,147.55 L197,147.52 L197.6,147.47 L198.2,147.4 L198.8,147.29 L199.4,147.14 L200,146.93 L200.6,146.64 L201.2,146.27 L201.8,145.81 L202.4,145.39 L203,143.27 L203.6,143.52 L204.2,140.14 L204.8,135.2 L205.4,135.78 L206,127.93 L206.6,122.29 L207.2,121.02 L207.8,115.03 L208.4,111.8 L209,112.98 L209.6,113.69 L210.2,121.16 L210.8,124.85 L211.4,129.42 L212,130.08 L212.6,130.5 L213.2,136.1 L213.8,138.94 L214.4,142.92 L215,144.22 L215.6,146.03 L216.2,146.45 L216.8,146.73 L217.4,147.01 L218,147.2 L218.6,147.33 L219.2,147.43 L219.8,147.49 L220.4,147.53 L221,147.56 L221.6,147.58 L222.2,147.59 L222.8,147.59 L223.4,147.6 L224,147.6 L224.6,147.6 L225.2,147.6 L225.8,147.6 L226.4,147.6 L227,147.6 L227.6,147.6 L228.2,147.6 L228.8,147.6 L229.4,147.6 L230,147.6 L230.6,147.6 L231.2,147.6 L231.8,147.6 L232.4,147.6 L233,147.6 L233,147.6 L173,147.6 Z" fill="#3a3ab4" fill-opacity="0.11" stroke="none"/>
<path d="M173,147.6 L173.6,147.6 L174.2,147.6 L174.8,147.6 L175.4,147.6 L176,147.6 L176.6,147.6 L177.2,147.6 L177.8,147.6 L178.4,147.6 L179,147.6 L179.6,147.6 L180.2,147.6 L180.8,147.6 L181.4,147.6 L182,147.6 L182.6,147.6 L183.2,147.6 L183.8,147.6 L184.4,147.6 L185,147.6 L185.6,147.6 L186.2,147.6 L186.8,147.6 L187.4,147.6 L188,147.6 L188.6,147.6 L189.2,147.6 L189.8,147.6 L190.4,147.6 L191,147.6 L191.6,147.6 L192.2,147.6 L192.8,147.6 L193.4,147.6 L194,147.59 L194.6,147.59 L195.2,147.58 L195.8,147.57 L196.4,147.55 L197,147.52 L197.6,147.47 L198.2,147.4 L198.8,147.29 L199.4,147.14 L200,146.93 L200.6,146.64 L201.2,146.27 L201.8,145.81 L202.4,145.39 L203,143.27 L203.6,143.52 L204.2,140.14 L204.8,135.2 L205.4,135.78 L206,127.93 L206.6,122.29 L207.2,121.02 L207.8,115.03 L208.4,111.8 L209,112.98 L209.6,113.69 L210.2,121.16 L210.8,124.85 L211.4,129.42 L212,130.08 L212.6,130.5 L213.2,136.1 L213.8,138.94 L214.4,142.92 L215,144.22 L215.6,146.03 L216.2,146.45 L216.8,146.73 L217.4,147.01 L218,147.2 L218.6,147.33 L219.2,147.43 L219.8,147.49 L220.4,147.53 L221,147.56 L221.6,147.58 L222.2,147.59 L222.8,147.59 L223.4,147.6 L224,147.6 L224.6,147.6 L225.2,147.6 L225.8,147.6 L226.4,147.6 L227,147.6 L227.6,147.6 L228.2,147.6 L228.8,147.6 L229.4,147.6 L230,147.6 L230.6,147.6 L231.2,147.6 L231.8,147.6 L232.4,147.6 L233,147.6" fill="none" stroke="#3a3ab4" stroke-width="1.5" stroke-linejoin="round"/>
<path d="M189.8,166.68 L190.4,166.49 L191,166.22 L191.6,165.85 L192.2,165.21 L192.8,163.94 L193.4,162.4 L194,159.06 L194.6,153.57 L195.2,147.77 L195.8,139.16 L196.4,133.07 L197,131.4 L197.6,135.95 L198.2,141.26 L198.8,149.1 L199.4,153.39 L200,158.77 L200.6,162.73 L201.2,163.73 L201.8,164.89 L202.4,165.67 L203,166.12 L203.6,166.41 L204.2,166.61 L204.8,166.75 L204.8,167 L189.8,167 Z" fill="#cc64cc" fill-opacity="0.11" stroke="none"/>
<path d="M189.8,166.68 L190.4,166.49 L191,166.22 L191.6,165.85 L192.2,165.21 L192.8,163.94 L193.4,162.4 L194,159.06 L194.6,153.57 L195.2,147.77 L195.8,139.16 L196.4,133.07 L197,131.4 L197.6,135.95 L198.2,141.26 L198.8,149.1 L199.4,153.39 L200,158.77 L200.6,162.73 L201.2,163.73 L201.8,164.89 L202.4,165.67 L203,166.12 L203.6,166.41 L204.2,166.61 L204.8,166.75" fill="none" stroke="#cc64cc" stroke-width="1.0" stroke-linejoin="round"/>
<line x1="172" y1="28.2" x2="233.5" y2="28.2" stroke="#505050" stroke-width="1.3"/>
<line x1="172.5" y1="167.2" x2="233.5" y2="167.2" stroke="#505050" stroke-width="1.2"/>
<line x1="172.5" y1="28.2" x2="172.5" y2="167.2" stroke="#8c8c8c" stroke-width="0.9"/>
<line x1="233.5" y1="28.2" x2="233.5" y2="167.2" stroke="#a0a0a0" stroke-width="0.9"/>
<line x1="171.5" y1="31.42" x2="172.5" y2="31.42" stroke="#999" stroke-width="0.6"/>
<line x1="171.5" y1="36.46" x2="172.5" y2="36.46" stroke="#999" stroke-width="0.6"/>
<line x1="170.5" y1="41.5" x2="172.5" y2="41.5" stroke="#555" stroke-width="0.9"/>
<line x1="171.5" y1="46.54" x2="172.5" y2="46.54" stroke="#999" stroke-width="0.6"/>
<line x1="171.5" y1="51.58" x2="172.5" y2="51.58" stroke="#999" stroke-width="0.6"/>
<line x1="171.5" y1="56.62" x2="172.5" y2="56.62" stroke="#999" stroke-width="0.6"/>
<line x1="171.5" y1="61.66" x2="172.5" y2="61.66" stroke="#999" stroke-width="0.6"/>
<line x1="170.5" y1="66.7" x2="172.5" y2="66.7" stroke="#555" stroke-width="0.9"/>
<line x1="171.5" y1="71.74" x2="172.5" y2="71.74" stroke="#999" stroke-width="0.6"/>
<line x1="171.5" y1="76.78" x2="172.5" y2="76.78" stroke="#999" stroke-width="0.6"/>
<line x1="171.5" y1="81.82" x2="172.5" y2="81.82" stroke="#999" stroke-width="0.6"/>
<line x1="171.5" y1="86.86" x2="172.5" y2="86.86" stroke="#999" stroke-width="0.6"/>
<line x1="170.5" y1="91.9" x2="172.5" y2="91.9" stroke="#555" stroke-width="0.9"/>
<line x1="171.5" y1="96.94" x2="172.5" y2="96.94" stroke="#999" stroke-width="0.6"/>
<line x1="171.5" y1="101.98" x2="172.5" y2="101.98" stroke="#999" stroke-width="0.6"/>
<line x1="171.5" y1="107.02" x2="172.5" y2="107.02" stroke="#999" stroke-width="0.6"/>
<line x1="171.5" y1="112.06" x2="172.5" y2="112.06" stroke="#999" stroke-width="0.6"/>
<line x1="170.5" y1="117.1" x2="172.5" y2="117.1" stroke="#555" stroke-width="0.9"/>
<line x1="171.5" y1="122.14" x2="172.5" y2="122.14" stroke="#999" stroke-width="0.6"/>
<line x1="171.5" y1="127.18" x2="172.5" y2="127.18" stroke="#999" stroke-width="0.6"/>
<line x1="171.5" y1="132.22" x2="172.5" y2="132.22" stroke="#999" stroke-width="0.6"/>
<line x1="171.5" y1="137.26" x2="172.5" y2="137.26" stroke="#999" stroke-width="0.6"/>
<line x1="170.5" y1="142.3" x2="172.5" y2="142.3" stroke="#555" stroke-width="0.9"/>
<line x1="171.5" y1="147.34" x2="172.5" y2="147.34" stroke="#999" stroke-width="0.6"/>
<line x1="171.5" y1="152.38" x2="172.5" y2="152.38" stroke="#999" stroke-width="0.6"/>
<line x1="171.5" y1="157.42" x2="172.5" y2="157.42" stroke="#999" stroke-width="0.6"/>
<line x1="171.5" y1="162.46" x2="172.5" y2="162.46" stroke="#999" stroke-width="0.6"/>
<line x1="172.5" y1="167.2" x2="172.5" y2="169.6" stroke="#666" stroke-width="0.8"/>
<line x1="175.56" y1="167.2" x2="175.56" y2="168.5" stroke="#aaa" stroke-width="0.5"/>
<line x1="177.35" y1="167.2" x2="177.35" y2="168.5" stroke="#aaa" stroke-width="0.5"/>
<line x1="178.62" y1="167.2" x2="178.62" y2="168.5" stroke="#aaa" stroke-width="0.5"/>
<line x1="179.61" y1="167.2" x2="179.61" y2="168.5" stroke="#aaa" stroke-width="0.5"/>
<line x1="180.41" y1="167.2" x2="180.41" y2="168.5" stroke="#aaa" stroke-width="0.5"/>
<line x1="181.09" y1="167.2" x2="181.09" y2="168.5" stroke="#aaa" stroke-width="0.5"/>
<line x1="181.68" y1="167.2" x2="181.68" y2="168.5" stroke="#aaa" stroke-width="0.5"/>
<line x1="182.2" y1="167.2" x2="182.2" y2="168.5" stroke="#aaa" stroke-width="0.5"/>
<line x1="182.67" y1="167.2" x2="182.67" y2="169.6" stroke="#666" stroke-width="0.8"/>
<line x1="185.73" y1="167.2" x2="185.73" y2="168.5" stroke="#aaa" stroke-width="0.5"/>
<line x1="187.52" y1="167.2" x2="187.52" y2="168.5" stroke="#aaa" stroke-width="0.5"/>
<line x1="188.79" y1="167.2" x2="188.79" y2="168.5" stroke="#aaa" stroke-width="0.5"/>
<line x1="189.77" y1="167.2" x2="189.77" y2="168.5" stroke="#aaa" stroke-width="0.5"/>
<line x1="190.58" y1="167.2" x2="190.58" y2="168.5" stroke="#aaa" stroke-width="0.5"/>
<line x1="191.26" y1="167.2" x2="191.26" y2="168.5" stroke="#aaa" stroke-width="0.5"/>
<line x1="191.85" y1="167.2" x2="191.85" y2="168.5" stroke="#aaa" stroke-width="0.5"/>
<line x1="192.37" y1="167.2" x2="192.37" y2="168.5" stroke="#aaa" stroke-width="0.5"/>
<line x1="192.83" y1="167.2" x2="192.83" y2="169.6" stroke="#666" stroke-width="0.8"/>
<line x1="195.89" y1="167.2" x2="195.89" y2="168.5" stroke="#aaa" stroke-width="0.5"/>
<line x1="197.68" y1="167.2" x2="197.68" y2="168.5" stroke="#aaa" stroke-width="0.5"/>
<line x1="198.95" y1="167.2" x2="198.95" y2="168.5" stroke="#aaa" stroke-width="0.5"/>
<line x1="199.94" y1="167.2" x2="199.94" y2="168.5" stroke="#aaa" stroke-width="0.5"/>
<line x1="200.74" y1="167.2" x2="200.74" y2="168.5" stroke="#aaa" stroke-width="0.5"/>
<line x1="201.43" y1="167.2" x2="201.43" y2="168.5" stroke="#aaa" stroke-width="0.5"/>
<line x1="202.01" y1="167.2" x2="202.01" y2="168.5" stroke="#aaa" stroke-width="0.5"/>
<line x1="202.53" y1="167.2" x2="202.53" y2="168.5" stroke="#aaa" stroke-width="0.5"/>
<line x1="203" y1="167.2" x2="203" y2="169.6" stroke="#666" stroke-width="0.8"/>
<line x1="206.06" y1="167.2" x2="206.06" y2="168.5" stroke="#aaa" stroke-width="0.5"/>
<line x1="207.85" y1="167.2" x2="207.85" y2="168.5" stroke="#aaa" stroke-width="0.5"/>
<line x1="209.12" y1="167.2" x2="209.12" y2="168.5" stroke="#aaa" stroke-width="0.5"/>
<line x1="210.11" y1="167.2" x2="210.11" y2="168.5" stroke="#aaa" stroke-width="0.5"/>
<line x1="210.91" y1="167.2" x2="210.91" y2="168.5" stroke="#aaa" stroke-width="0.5"/>
<line x1="211.59" y1="167.2" x2="211.59" y2="168.5" stroke="#aaa" stroke-width="0.5"/>
<line x1="212.18" y1="167.2" x2="212.18" y2="168.5" stroke="#aaa" stroke-width="0.5"/>
<line x1="212.7" y1="167.2" x2="212.7" y2="168.5" stroke="#aaa" stroke-width="0.5"/>
<line x1="213.17" y1="167.2" x2="213.17" y2="169.6" stroke="#666" stroke-width="0.8"/>
<line x1="216.23" y1="167.2" x2="216.23" y2="168.5" stroke="#aaa" stroke-width="0.5"/>
<line x1="218.02" y1="167.2" x2="218.02" y2="168.5" stroke="#aaa" stroke-width="0.5"/>
<line x1="219.29" y1="167.2" x2="219.29" y2="168.5" stroke="#aaa" stroke-width="0.5"/>
<line x1="220.27" y1="167.2" x2="220.27" y2="168.5" stroke="#aaa" stroke-width="0.5"/>
<line x1="221.08" y1="167.2" x2="221.08" y2="168.5" stroke="#aaa" stroke-width="0.5"/>
<line x1="221.76" y1="167.2" x2="221.76" y2="168.5" stroke="#aaa" stroke-width="0.5"/>
<line x1="222.35" y1="167.2" x2="222.35" y2="168.5" stroke="#aaa" stroke-width="0.5"/>
<line x1="222.87" y1="167.2" x2="222.87" y2="168.5" stroke="#aaa" stroke-width="0.5"/>
<line x1="223.33" y1="167.2" x2="223.33" y2="169.6" stroke="#666" stroke-width="0.8"/>
<line x1="226.39" y1="167.2" x2="226.39" y2="168.5" stroke="#aaa" stroke-width="0.5"/>
<line x1="228.18" y1="167.2" x2="228.18" y2="168.5" stroke="#aaa" stroke-width="0.5"/>
<line x1="229.45" y1="167.2" x2="229.45" y2="168.5" stroke="#aaa" stroke-width="0.5"/>
<line x1="230.44" y1="167.2" x2="230.44" y2="168.5" stroke="#aaa" stroke-width="0.5"/>
<line x1="231.24" y1="167.2" x2="231.24" y2="168.5" stroke="#aaa" stroke-width="0.5"/>
<line x1="231.93" y1="167.2" x2="231.93" y2="168.5" stroke="#aaa" stroke-width="0.5"/>
<line x1="232.51" y1="167.2" x2="232.51" y2="168.5" stroke="#aaa" stroke-width="0.5"/>
<line x1="233.03" y1="167.2" x2="233.03" y2="168.5" stroke="#aaa" stroke-width="0.5"/>
<line x1="233.5" y1="167.2" x2="233.5" y2="169.6" stroke="#666" stroke-width="0.8"/>
<text x="237.17" y="60.8" font-size="9.7" text-anchor="start" font-weight="normal" fill="#1c1c1c" textLength="17.57" lengthAdjust="spacingAndGlyphs" stroke="#1c1c1c" stroke-width="0.18">ISO</text>
<text x="237.17" y="86" font-size="9.7" text-anchor="start" font-weight="normal" fill="#1c1c1c" textLength="23.67" lengthAdjust="spacingAndGlyphs" stroke="#1c1c1c" stroke-width="0.18">K562</text>
<text x="237.17" y="106.5" font-size="9.7" text-anchor="start" font-weight="normal" fill="#1c1c1c" textLength="25.37" lengthAdjust="spacingAndGlyphs" stroke="#1c1c1c" stroke-width="0.18">OE19</text>
<text x="237.17" y="124.2" font-size="9.7" text-anchor="start" font-weight="normal" fill="#1c1c1c" textLength="26.77" lengthAdjust="spacingAndGlyphs" stroke="#1c1c1c" stroke-width="0.18">THP-1</text>
<text x="237.17" y="143.5" font-size="9.7" text-anchor="start" font-weight="normal" fill="#1c1c1c" textLength="27.17" lengthAdjust="spacingAndGlyphs" stroke="#1c1c1c" stroke-width="0.18">HPAC</text>
<text x="237.17" y="161.6" font-size="9.7" text-anchor="start" font-weight="normal" fill="#1c1c1c" textLength="32.47" lengthAdjust="spacingAndGlyphs" stroke="#1c1c1c" stroke-width="0.18">SKOV3</text>
<text x="172.57" y="186.7" font-size="9.7" text-anchor="start" font-weight="normal" fill="#1c1c1c" textLength="34.97" lengthAdjust="spacingAndGlyphs" stroke="#1c1c1c" stroke-width="0.18">MICA/B</text>
<text x="7.8" y="208.5" font-size="14.2" text-anchor="start" font-weight="bold" fill="#000" stroke="#000" stroke-width="0.3">C</text>
<line x1="43.8" y1="238.3" x2="43.8" y2="335.9" stroke="#111" stroke-width="1.5"/>
<line x1="40" y1="335.2" x2="43.8" y2="335.2" stroke="#111" stroke-width="1.2"/>
<text x="36.5" y="337.5" font-size="9.6" text-anchor="end" font-weight="normal" fill="#1c1c1c" stroke="#1c1c1c" stroke-width="0.18">0</text>
<line x1="40" y1="316.48" x2="43.8" y2="316.48" stroke="#111" stroke-width="1.2"/>
<text x="36.5" y="318.78" font-size="9.6" text-anchor="end" font-weight="normal" fill="#1c1c1c" stroke="#1c1c1c" stroke-width="0.18">20</text>
<line x1="40" y1="297.76" x2="43.8" y2="297.76" stroke="#111" stroke-width="1.2"/>
<text x="36.5" y="300.06" font-size="9.6" text-anchor="end" font-weight="normal" fill="#1c1c1c" stroke="#1c1c1c" stroke-width="0.18">40</text>
<line x1="40" y1="279.04" x2="43.8" y2="279.04" stroke="#111" stroke-width="1.2"/>
<text x="36.5" y="281.34" font-size="9.6" text-anchor="end" font-weight="normal" fill="#1c1c1c" stroke="#1c1c1c" stroke-width="0.18">60</text>
<line x1="40" y1="260.32" x2="43.8" y2="260.32" stroke="#111" stroke-width="1.2"/>
<text x="36.5" y="262.62" font-size="9.6" text-anchor="end" font-weight="normal" fill="#1c1c1c" stroke="#1c1c1c" stroke-width="0.18">80</text>
<line x1="40" y1="241.6" x2="43.8" y2="241.6" stroke="#111" stroke-width="1.2"/>
<text x="36.5" y="243.9" font-size="9.6" text-anchor="end" font-weight="normal" fill="#1c1c1c" stroke="#1c1c1c" stroke-width="0.18">100</text>
<line x1="43.1" y1="335.2" x2="221.6" y2="335.2" stroke="#111" stroke-width="1.5"/>
<line x1="58.6" y1="335.2" x2="58.6" y2="338.8" stroke="#111" stroke-width="1.2"/>
<line x1="88.3" y1="335.2" x2="88.3" y2="338.8" stroke="#111" stroke-width="1.2"/>
<line x1="117.9" y1="335.2" x2="117.9" y2="338.8" stroke="#111" stroke-width="1.2"/>
<line x1="147.5" y1="335.2" x2="147.5" y2="338.8" stroke="#111" stroke-width="1.2"/>
<line x1="177.1" y1="335.2" x2="177.1" y2="338.8" stroke="#111" stroke-width="1.2"/>
<line x1="206.7" y1="335.2" x2="206.7" y2="338.8" stroke="#111" stroke-width="1.2"/>
<text x="58.6" y="351.1" font-size="9.6" text-anchor="middle" font-weight="normal" fill="#1c1c1c" textLength="13.56" lengthAdjust="spacingAndGlyphs" stroke="#1c1c1c" stroke-width="0.18">5:1</text>
<text x="88.3" y="351.1" font-size="9.6" text-anchor="middle" font-weight="normal" fill="#1c1c1c" textLength="13.56" lengthAdjust="spacingAndGlyphs" stroke="#1c1c1c" stroke-width="0.18">2:1</text>
<text x="117.9" y="351.1" font-size="9.6" text-anchor="middle" font-weight="normal" fill="#1c1c1c" textLength="13.56" lengthAdjust="spacingAndGlyphs" stroke="#1c1c1c" stroke-width="0.18">1:1</text>
<text x="147.5" y="351.1" font-size="9.6" text-anchor="middle" font-weight="normal" fill="#1c1c1c" textLength="13.56" lengthAdjust="spacingAndGlyphs" stroke="#1c1c1c" stroke-width="0.18">1:2</text>
<text x="177.1" y="351.1" font-size="9.6" text-anchor="middle" font-weight="normal" fill="#1c1c1c" textLength="13.56" lengthAdjust="spacingAndGlyphs" stroke="#1c1c1c" stroke-width="0.18">1:4</text>
<text x="206.7" y="351.1" font-size="9.6" text-anchor="middle" font-weight="normal" fill="#1c1c1c" textLength="13.56" lengthAdjust="spacingAndGlyphs" stroke="#1c1c1c" stroke-width="0.18">1:8</text>
<text transform="translate(18.7,286.55) rotate(-90)" x="0" y="0" font-size="11.8" text-anchor="middle" font-weight="normal" fill="#1c1c1c" textLength="54.2" lengthAdjust="spacingAndGlyphs" stroke="#1c1c1c" stroke-width="0.45">HPAC killing %</text>
<polyline points="58.6,300.57 88.3,319.01 117.9,327.71 147.5,334.92 177.1,335.11 206.7,335.11" fill="none" stroke="#2f4f94" stroke-width="1.1"/>
<line x1="58.6" y1="297.95" x2="58.6" y2="303.19" stroke="#2f4f94" stroke-width="1.0"/>
<line x1="57.4" y1="297.95" x2="59.8" y2="297.95" stroke="#2f4f94" stroke-width="1.0"/>
<line x1="57.4" y1="303.19" x2="59.8" y2="303.19" stroke="#2f4f94" stroke-width="1.0"/>
<line x1="88.3" y1="314.8" x2="88.3" y2="323.22" stroke="#2f4f94" stroke-width="1.0"/>
<line x1="87.1" y1="314.8" x2="89.5" y2="314.8" stroke="#2f4f94" stroke-width="1.0"/>
<line x1="87.1" y1="323.22" x2="89.5" y2="323.22" stroke="#2f4f94" stroke-width="1.0"/>
<line x1="117.9" y1="323.5" x2="117.9" y2="331.92" stroke="#2f4f94" stroke-width="1.0"/>
<line x1="116.7" y1="323.5" x2="119.1" y2="323.5" stroke="#2f4f94" stroke-width="1.0"/>
<line x1="116.7" y1="331.92" x2="119.1" y2="331.92" stroke="#2f4f94" stroke-width="1.0"/>
<circle cx="58.6" cy="300.57" r="1.4" fill="#2f4f94"/>
<circle cx="88.3" cy="319.01" r="1.4" fill="#2f4f94"/>
<circle cx="117.9" cy="327.71" r="1.4" fill="#2f4f94"/>
<circle cx="147.5" cy="334.92" r="1.4" fill="#2f4f94"/>
<circle cx="177.1" cy="335.11" r="1.4" fill="#2f4f94"/>
<circle cx="206.7" cy="335.11" r="1.4" fill="#2f4f94"/>
<polyline points="58.6,315.08 88.3,327.9 117.9,332.3 147.5,330.24 177.1,330.33 206.7,334.45" fill="none" stroke="#2f4f94" stroke-width="1.1" stroke-dasharray="4,2.6"/>
<line x1="58.6" y1="311.8" x2="58.6" y2="318.35" stroke="#2f4f94" stroke-width="1.0"/>
<line x1="57.4" y1="311.8" x2="59.8" y2="311.8" stroke="#2f4f94" stroke-width="1.0"/>
<line x1="57.4" y1="318.35" x2="59.8" y2="318.35" stroke="#2f4f94" stroke-width="1.0"/>
<line x1="88.3" y1="323.22" x2="88.3" y2="332.58" stroke="#2f4f94" stroke-width="1.0"/>
<line x1="87.1" y1="323.22" x2="89.5" y2="323.22" stroke="#2f4f94" stroke-width="1.0"/>
<line x1="87.1" y1="332.58" x2="89.5" y2="332.58" stroke="#2f4f94" stroke-width="1.0"/>
<circle cx="58.6" cy="315.08" r="1.65" fill="#fff" stroke="#2f4f94" stroke-width="1.0"/>
<circle cx="88.3" cy="327.9" r="1.65" fill="#fff" stroke="#2f4f94" stroke-width="1.0"/>
<circle cx="117.9" cy="332.3" r="1.65" fill="#fff" stroke="#2f4f94" stroke-width="1.0"/>
<circle cx="147.5" cy="330.24" r="1.65" fill="#fff" stroke="#2f4f94" stroke-width="1.0"/>
<circle cx="177.1" cy="330.33" r="1.65" fill="#fff" stroke="#2f4f94" stroke-width="1.0"/>
<circle cx="206.7" cy="334.45" r="1.65" fill="#fff" stroke="#2f4f94" stroke-width="1.0"/>
<polyline points="58.6,262.57 88.3,278.67 117.9,298.42 147.5,309.18 177.1,318.91 206.7,324.34" fill="none" stroke="#a8062f" stroke-width="1.1"/>
<line x1="88.3" y1="275.58" x2="88.3" y2="281.75" stroke="#a8062f" stroke-width="1.0"/>
<line x1="87.1" y1="275.58" x2="89.5" y2="275.58" stroke="#a8062f" stroke-width="1.0"/>
<line x1="87.1" y1="281.75" x2="89.5" y2="281.75" stroke="#a8062f" stroke-width="1.0"/>
<line x1="117.9" y1="287.84" x2="117.9" y2="308.99" stroke="#a8062f" stroke-width="1.0"/>
<line x1="116.7" y1="287.84" x2="119.1" y2="287.84" stroke="#a8062f" stroke-width="1.0"/>
<line x1="116.7" y1="308.99" x2="119.1" y2="308.99" stroke="#a8062f" stroke-width="1.0"/>
<line x1="147.5" y1="301.5" x2="147.5" y2="316.85" stroke="#a8062f" stroke-width="1.0"/>
<line x1="146.3" y1="301.5" x2="148.7" y2="301.5" stroke="#a8062f" stroke-width="1.0"/>
<line x1="146.3" y1="316.85" x2="148.7" y2="316.85" stroke="#a8062f" stroke-width="1.0"/>
<line x1="177.1" y1="310.49" x2="177.1" y2="327.34" stroke="#a8062f" stroke-width="1.0"/>
<line x1="175.9" y1="310.49" x2="178.3" y2="310.49" stroke="#a8062f" stroke-width="1.0"/>
<line x1="175.9" y1="327.34" x2="178.3" y2="327.34" stroke="#a8062f" stroke-width="1.0"/>
<line x1="206.7" y1="319.94" x2="206.7" y2="328.74" stroke="#a8062f" stroke-width="1.0"/>
<line x1="205.5" y1="319.94" x2="207.9" y2="319.94" stroke="#a8062f" stroke-width="1.0"/>
<line x1="205.5" y1="328.74" x2="207.9" y2="328.74" stroke="#a8062f" stroke-width="1.0"/>
<rect x="57.2" y="261.17" width="2.8" height="2.8" fill="#a8062f"/>
<rect x="86.9" y="277.27" width="2.8" height="2.8" fill="#a8062f"/>
<rect x="116.5" y="297.02" width="2.8" height="2.8" fill="#a8062f"/>
<rect x="146.1" y="307.78" width="2.8" height="2.8" fill="#a8062f"/>
<rect x="175.7" y="317.51" width="2.8" height="2.8" fill="#a8062f"/>
<rect x="205.3" y="322.94" width="2.8" height="2.8" fill="#a8062f"/>
<polyline points="58.6,250.3 88.3,261.91 117.9,278.48 147.5,282.97 177.1,292.99 206.7,303.47" fill="none" stroke="#a8062f" stroke-width="1.1" stroke-dasharray="4,2.6"/>
<line x1="58.6" y1="246.94" x2="58.6" y2="253.67" stroke="#a8062f" stroke-width="1.0"/>
<line x1="57.4" y1="246.94" x2="59.8" y2="246.94" stroke="#a8062f" stroke-width="1.0"/>
<line x1="57.4" y1="253.67" x2="59.8" y2="253.67" stroke="#a8062f" stroke-width="1.0"/>
<line x1="88.3" y1="256.86" x2="88.3" y2="266.97" stroke="#a8062f" stroke-width="1.0"/>
<line x1="87.1" y1="256.86" x2="89.5" y2="256.86" stroke="#a8062f" stroke-width="1.0"/>
<line x1="87.1" y1="266.97" x2="89.5" y2="266.97" stroke="#a8062f" stroke-width="1.0"/>
<line x1="147.5" y1="276.61" x2="147.5" y2="289.34" stroke="#a8062f" stroke-width="1.0"/>
<line x1="146.3" y1="276.61" x2="148.7" y2="276.61" stroke="#a8062f" stroke-width="1.0"/>
<line x1="146.3" y1="289.34" x2="148.7" y2="289.34" stroke="#a8062f" stroke-width="1.0"/>
<line x1="177.1" y1="288.49" x2="177.1" y2="297.48" stroke="#a8062f" stroke-width="1.0"/>
<line x1="175.9" y1="288.49" x2="178.3" y2="288.49" stroke="#a8062f" stroke-width="1.0"/>
<line x1="175.9" y1="297.48" x2="178.3" y2="297.48" stroke="#a8062f" stroke-width="1.0"/>
<line x1="206.7" y1="298.79" x2="206.7" y2="308.15" stroke="#a8062f" stroke-width="1.0"/>
<line x1="205.5" y1="298.79" x2="207.9" y2="298.79" stroke="#a8062f" stroke-width="1.0"/>
<line x1="205.5" y1="308.15" x2="207.9" y2="308.15" stroke="#a8062f" stroke-width="1.0"/>
<circle cx="58.6" cy="250.3" r="1.65" fill="#fff" stroke="#a8062f" stroke-width="1.0"/>
<circle cx="88.3" cy="261.91" r="1.65" fill="#fff" stroke="#a8062f" stroke-width="1.0"/>
<circle cx="117.9" cy="278.48" r="1.65" fill="#fff" stroke="#a8062f" stroke-width="1.0"/>
<circle cx="147.5" cy="282.97" r="1.65" fill="#fff" stroke="#a8062f" stroke-width="1.0"/>
<circle cx="177.1" cy="292.99" r="1.65" fill="#fff" stroke="#a8062f" stroke-width="1.0"/>
<circle cx="206.7" cy="303.47" r="1.65" fill="#fff" stroke="#a8062f" stroke-width="1.0"/>
<line x1="24.7" y1="362.5" x2="38.5" y2="362.5" stroke="#2f4f94" stroke-width="0.95"/>
<circle cx="31.6" cy="362.5" r="1.45" fill="#2f4f94"/>
<text x="41.76" y="365.6" font-size="9.9" text-anchor="start" font-weight="normal" fill="#1c1c1c" textLength="56.49" lengthAdjust="spacingAndGlyphs" stroke="#1c1c1c" stroke-width="0.18">iRC9-&#916;CD19</text>
<line x1="24.7" y1="377.4" x2="26.7" y2="377.4" stroke="#2f4f94" stroke-width="1.0"/>
<line x1="36.3" y1="377.4" x2="38.5" y2="377.4" stroke="#2f4f94" stroke-width="1.0"/>
<circle cx="31.6" cy="377.4" r="1.4" fill="#fff" stroke="#2f4f94" stroke-width="1.15"/>
<text x="41.76" y="380.5" font-size="9.9" text-anchor="start" font-weight="normal" fill="#1c1c1c" textLength="75.39" lengthAdjust="spacingAndGlyphs" stroke="#1c1c1c" stroke-width="0.18">iRC9-&#916;CD19 Rim</text>
<line x1="128.2" y1="362.5" x2="142" y2="362.5" stroke="#a8062f" stroke-width="0.95"/>
<rect x="133.8" y="361.2" width="2.6" height="2.6" fill="#a8062f"/>
<text x="145.26" y="365.6" font-size="9.9" text-anchor="start" font-weight="normal" fill="#1c1c1c" textLength="77.29" lengthAdjust="spacingAndGlyphs" stroke="#1c1c1c" stroke-width="0.18">iRC9-&#916;CD19-iMC</text>
<line x1="128.2" y1="377.4" x2="130.2" y2="377.4" stroke="#a8062f" stroke-width="1.0"/>
<line x1="139.8" y1="377.4" x2="142" y2="377.4" stroke="#a8062f" stroke-width="1.0"/>
<circle cx="135.1" cy="377.4" r="1.4" fill="#fff" stroke="#a8062f" stroke-width="1.15"/>
<text x="145.26" y="380.5" font-size="9.9" text-anchor="start" font-weight="normal" fill="#1c1c1c" textLength="96.49" lengthAdjust="spacingAndGlyphs" stroke="#1c1c1c" stroke-width="0.18">iRC9-&#916;CD19-iMC Rim</text>
<text x="8.1" y="402.5" font-size="14.2" text-anchor="start" font-weight="bold" fill="#000" stroke="#000" stroke-width="0.3">D</text>
<line x1="43.8" y1="409.8" x2="43.8" y2="513.6" stroke="#111" stroke-width="1.5"/>
<line x1="40" y1="512.9" x2="43.8" y2="512.9" stroke="#111" stroke-width="1.2"/>
<text x="36.5" y="515.2" font-size="9.6" text-anchor="end" font-weight="normal" fill="#1c1c1c" stroke="#1c1c1c" stroke-width="0.18">0</text>
<line x1="40" y1="493.02" x2="43.8" y2="493.02" stroke="#111" stroke-width="1.2"/>
<text x="36.5" y="495.32" font-size="9.6" text-anchor="end" font-weight="normal" fill="#1c1c1c" stroke="#1c1c1c" stroke-width="0.18">20</text>
<line x1="40" y1="473.14" x2="43.8" y2="473.14" stroke="#111" stroke-width="1.2"/>
<text x="36.5" y="475.44" font-size="9.6" text-anchor="end" font-weight="normal" fill="#1c1c1c" stroke="#1c1c1c" stroke-width="0.18">40</text>
<line x1="40" y1="453.26" x2="43.8" y2="453.26" stroke="#111" stroke-width="1.2"/>
<text x="36.5" y="455.56" font-size="9.6" text-anchor="end" font-weight="normal" fill="#1c1c1c" stroke="#1c1c1c" stroke-width="0.18">60</text>
<line x1="40" y1="433.38" x2="43.8" y2="433.38" stroke="#111" stroke-width="1.2"/>
<text x="36.5" y="435.68" font-size="9.6" text-anchor="end" font-weight="normal" fill="#1c1c1c" stroke="#1c1c1c" stroke-width="0.18">80</text>
<line x1="40" y1="413.5" x2="43.8" y2="413.5" stroke="#111" stroke-width="1.2"/>
<text x="36.5" y="415.8" font-size="9.6" text-anchor="end" font-weight="normal" fill="#1c1c1c" stroke="#1c1c1c" stroke-width="0.18">100</text>
<line x1="43.1" y1="512.9" x2="223.5" y2="512.9" stroke="#111" stroke-width="1.5"/>
<line x1="58.8" y1="512.9" x2="58.8" y2="516.5" stroke="#111" stroke-width="1.2"/>
<line x1="88.8" y1="512.9" x2="88.8" y2="516.5" stroke="#111" stroke-width="1.2"/>
<line x1="118.8" y1="512.9" x2="118.8" y2="516.5" stroke="#111" stroke-width="1.2"/>
<line x1="148.6" y1="512.9" x2="148.6" y2="516.5" stroke="#111" stroke-width="1.2"/>
<line x1="178.6" y1="512.9" x2="178.6" y2="516.5" stroke="#111" stroke-width="1.2"/>
<line x1="208.7" y1="512.9" x2="208.7" y2="516.5" stroke="#111" stroke-width="1.2"/>
<text x="58.8" y="529.3" font-size="9.6" text-anchor="middle" font-weight="normal" fill="#1c1c1c" textLength="13.56" lengthAdjust="spacingAndGlyphs" stroke="#1c1c1c" stroke-width="0.18">5:1</text>
<text x="88.8" y="529.3" font-size="9.6" text-anchor="middle" font-weight="normal" fill="#1c1c1c" textLength="13.56" lengthAdjust="spacingAndGlyphs" stroke="#1c1c1c" stroke-width="0.18">2:1</text>
<text x="118.8" y="529.3" font-size="9.6" text-anchor="middle" font-weight="normal" fill="#1c1c1c" textLength="13.56" lengthAdjust="spacingAndGlyphs" stroke="#1c1c1c" stroke-width="0.18">1:1</text>
<text x="148.6" y="529.3" font-size="9.6" text-anchor="middle" font-weight="normal" fill="#1c1c1c" textLength="13.56" lengthAdjust="spacingAndGlyphs" stroke="#1c1c1c" stroke-width="0.18">1:2</text>
<text x="178.6" y="529.3" font-size="9.6" text-anchor="middle" font-weight="normal" fill="#1c1c1c" textLength="13.56" lengthAdjust="spacingAndGlyphs" stroke="#1c1c1c" stroke-width="0.18">1:4</text>
<text x="208.7" y="529.3" font-size="9.6" text-anchor="middle" font-weight="normal" fill="#1c1c1c" textLength="13.56" lengthAdjust="spacingAndGlyphs" stroke="#1c1c1c" stroke-width="0.18">1:8</text>
<text transform="translate(18.4,461.4) rotate(-90)" x="0" y="0" font-size="11.8" text-anchor="middle" font-weight="normal" fill="#1c1c1c" textLength="56.3" lengthAdjust="spacingAndGlyphs" stroke="#1c1c1c" stroke-width="0.45">THP-1 killing %</text>
<polyline points="58.8,414.2 88.8,434.37 118.8,448.59 148.6,465.19 178.6,485.27 208.7,495.21" fill="none" stroke="#2f4f94" stroke-width="1.1"/>
<line x1="88.8" y1="427.02" x2="88.8" y2="441.73" stroke="#2f4f94" stroke-width="1.0"/>
<line x1="87.6" y1="427.02" x2="90" y2="427.02" stroke="#2f4f94" stroke-width="1.0"/>
<line x1="87.6" y1="441.73" x2="90" y2="441.73" stroke="#2f4f94" stroke-width="1.0"/>
<line x1="118.8" y1="439.34" x2="118.8" y2="457.83" stroke="#2f4f94" stroke-width="1.0"/>
<line x1="117.6" y1="439.34" x2="120" y2="439.34" stroke="#2f4f94" stroke-width="1.0"/>
<line x1="117.6" y1="457.83" x2="120" y2="457.83" stroke="#2f4f94" stroke-width="1.0"/>
<line x1="148.6" y1="460.22" x2="148.6" y2="470.16" stroke="#2f4f94" stroke-width="1.0"/>
<line x1="147.4" y1="460.22" x2="149.8" y2="460.22" stroke="#2f4f94" stroke-width="1.0"/>
<line x1="147.4" y1="470.16" x2="149.8" y2="470.16" stroke="#2f4f94" stroke-width="1.0"/>
<line x1="178.6" y1="479.6" x2="178.6" y2="490.93" stroke="#2f4f94" stroke-width="1.0"/>
<line x1="177.4" y1="479.6" x2="179.8" y2="479.6" stroke="#2f4f94" stroke-width="1.0"/>
<line x1="177.4" y1="490.93" x2="179.8" y2="490.93" stroke="#2f4f94" stroke-width="1.0"/>
<line x1="208.7" y1="490.73" x2="208.7" y2="499.68" stroke="#2f4f94" stroke-width="1.0"/>
<line x1="207.5" y1="490.73" x2="209.9" y2="490.73" stroke="#2f4f94" stroke-width="1.0"/>
<line x1="207.5" y1="499.68" x2="209.9" y2="499.68" stroke="#2f4f94" stroke-width="1.0"/>
<circle cx="58.8" cy="414.2" r="1.4" fill="#2f4f94"/>
<circle cx="88.8" cy="434.37" r="1.4" fill="#2f4f94"/>
<circle cx="118.8" cy="448.59" r="1.4" fill="#2f4f94"/>
<circle cx="148.6" cy="465.19" r="1.4" fill="#2f4f94"/>
<circle cx="178.6" cy="485.27" r="1.4" fill="#2f4f94"/>
<circle cx="208.7" cy="495.21" r="1.4" fill="#2f4f94"/>
<polyline points="58.8,415.99 88.8,424.24 118.8,442.43 148.6,459.52 178.6,491.43 208.7,494.81" fill="none" stroke="#2f4f94" stroke-width="1.1" stroke-dasharray="4,2.6"/>
<line x1="58.8" y1="414.49" x2="58.8" y2="417.48" stroke="#2f4f94" stroke-width="1.0"/>
<line x1="57.6" y1="414.49" x2="60" y2="414.49" stroke="#2f4f94" stroke-width="1.0"/>
<line x1="57.6" y1="417.48" x2="60" y2="417.48" stroke="#2f4f94" stroke-width="1.0"/>
<line x1="88.8" y1="421.25" x2="88.8" y2="427.22" stroke="#2f4f94" stroke-width="1.0"/>
<line x1="87.6" y1="421.25" x2="90" y2="421.25" stroke="#2f4f94" stroke-width="1.0"/>
<line x1="87.6" y1="427.22" x2="90" y2="427.22" stroke="#2f4f94" stroke-width="1.0"/>
<line x1="118.8" y1="436.46" x2="118.8" y2="448.39" stroke="#2f4f94" stroke-width="1.0"/>
<line x1="117.6" y1="436.46" x2="120" y2="436.46" stroke="#2f4f94" stroke-width="1.0"/>
<line x1="117.6" y1="448.39" x2="120" y2="448.39" stroke="#2f4f94" stroke-width="1.0"/>
<line x1="148.6" y1="453.76" x2="148.6" y2="465.29" stroke="#2f4f94" stroke-width="1.0"/>
<line x1="147.4" y1="453.76" x2="149.8" y2="453.76" stroke="#2f4f94" stroke-width="1.0"/>
<line x1="147.4" y1="465.29" x2="149.8" y2="465.29" stroke="#2f4f94" stroke-width="1.0"/>
<line x1="178.6" y1="484.17" x2="178.6" y2="498.69" stroke="#2f4f94" stroke-width="1.0"/>
<line x1="177.4" y1="484.17" x2="179.8" y2="484.17" stroke="#2f4f94" stroke-width="1.0"/>
<line x1="177.4" y1="498.69" x2="179.8" y2="498.69" stroke="#2f4f94" stroke-width="1.0"/>
<line x1="208.7" y1="491.83" x2="208.7" y2="497.79" stroke="#2f4f94" stroke-width="1.0"/>
<line x1="207.5" y1="491.83" x2="209.9" y2="491.83" stroke="#2f4f94" stroke-width="1.0"/>
<line x1="207.5" y1="497.79" x2="209.9" y2="497.79" stroke="#2f4f94" stroke-width="1.0"/>
<circle cx="58.8" cy="415.99" r="1.65" fill="#fff" stroke="#2f4f94" stroke-width="1.0"/>
<circle cx="88.8" cy="424.24" r="1.65" fill="#fff" stroke="#2f4f94" stroke-width="1.0"/>
<circle cx="118.8" cy="442.43" r="1.65" fill="#fff" stroke="#2f4f94" stroke-width="1.0"/>
<circle cx="148.6" cy="459.52" r="1.65" fill="#fff" stroke="#2f4f94" stroke-width="1.0"/>
<circle cx="178.6" cy="491.43" r="1.65" fill="#fff" stroke="#2f4f94" stroke-width="1.0"/>
<circle cx="208.7" cy="494.81" r="1.65" fill="#fff" stroke="#2f4f94" stroke-width="1.0"/>
<polyline points="58.8,414.89 88.8,415.49 118.8,420.46 148.6,432.39 178.6,448.49 208.7,462.8" fill="none" stroke="#a8062f" stroke-width="1.1"/>
<line x1="118.8" y1="418.97" x2="118.8" y2="421.95" stroke="#a8062f" stroke-width="1.0"/>
<line x1="117.6" y1="418.97" x2="120" y2="418.97" stroke="#a8062f" stroke-width="1.0"/>
<line x1="117.6" y1="421.95" x2="120" y2="421.95" stroke="#a8062f" stroke-width="1.0"/>
<line x1="148.6" y1="430.89" x2="148.6" y2="433.88" stroke="#a8062f" stroke-width="1.0"/>
<line x1="147.4" y1="430.89" x2="149.8" y2="430.89" stroke="#a8062f" stroke-width="1.0"/>
<line x1="147.4" y1="433.88" x2="149.8" y2="433.88" stroke="#a8062f" stroke-width="1.0"/>
<line x1="208.7" y1="459.12" x2="208.7" y2="466.48" stroke="#a8062f" stroke-width="1.0"/>
<line x1="207.5" y1="459.12" x2="209.9" y2="459.12" stroke="#a8062f" stroke-width="1.0"/>
<line x1="207.5" y1="466.48" x2="209.9" y2="466.48" stroke="#a8062f" stroke-width="1.0"/>
<rect x="57.4" y="413.49" width="2.8" height="2.8" fill="#a8062f"/>
<rect x="87.4" y="414.09" width="2.8" height="2.8" fill="#a8062f"/>
<rect x="117.4" y="419.06" width="2.8" height="2.8" fill="#a8062f"/>
<rect x="147.2" y="430.99" width="2.8" height="2.8" fill="#a8062f"/>
<rect x="177.2" y="447.09" width="2.8" height="2.8" fill="#a8062f"/>
<rect x="207.3" y="461.4" width="2.8" height="2.8" fill="#a8062f"/>
<polyline points="58.8,417.48 88.8,416.08 118.8,421.15 148.6,428.41 178.6,439.84 208.7,451.77" fill="none" stroke="#a8062f" stroke-width="1.1" stroke-dasharray="4,2.6"/>
<line x1="58.8" y1="415.99" x2="58.8" y2="418.97" stroke="#a8062f" stroke-width="1.0"/>
<line x1="57.6" y1="415.99" x2="60" y2="415.99" stroke="#a8062f" stroke-width="1.0"/>
<line x1="57.6" y1="418.97" x2="60" y2="418.97" stroke="#a8062f" stroke-width="1.0"/>
<line x1="148.6" y1="424.93" x2="148.6" y2="431.89" stroke="#a8062f" stroke-width="1.0"/>
<line x1="147.4" y1="424.93" x2="149.8" y2="424.93" stroke="#a8062f" stroke-width="1.0"/>
<line x1="147.4" y1="431.89" x2="149.8" y2="431.89" stroke="#a8062f" stroke-width="1.0"/>
<line x1="208.7" y1="449.09" x2="208.7" y2="454.45" stroke="#a8062f" stroke-width="1.0"/>
<line x1="207.5" y1="449.09" x2="209.9" y2="449.09" stroke="#a8062f" stroke-width="1.0"/>
<line x1="207.5" y1="454.45" x2="209.9" y2="454.45" stroke="#a8062f" stroke-width="1.0"/>
<circle cx="58.8" cy="417.48" r="1.65" fill="#fff" stroke="#a8062f" stroke-width="1.0"/>
<circle cx="88.8" cy="416.08" r="1.65" fill="#fff" stroke="#a8062f" stroke-width="1.0"/>
<circle cx="118.8" cy="421.15" r="1.65" fill="#fff" stroke="#a8062f" stroke-width="1.0"/>
<circle cx="148.6" cy="428.41" r="1.65" fill="#fff" stroke="#a8062f" stroke-width="1.0"/>
<circle cx="178.6" cy="439.84" r="1.65" fill="#fff" stroke="#a8062f" stroke-width="1.0"/>
<circle cx="208.7" cy="451.77" r="1.65" fill="#fff" stroke="#a8062f" stroke-width="1.0"/>
<line x1="24.7" y1="540.5" x2="38.5" y2="540.5" stroke="#2f4f94" stroke-width="0.95"/>
<circle cx="31.6" cy="540.5" r="1.45" fill="#2f4f94"/>
<text x="41.76" y="543.6" font-size="9.9" text-anchor="start" font-weight="normal" fill="#1c1c1c" textLength="56.49" lengthAdjust="spacingAndGlyphs" stroke="#1c1c1c" stroke-width="0.18">iRC9-&#916;CD19</text>
<line x1="24.7" y1="555.4" x2="26.7" y2="555.4" stroke="#2f4f94" stroke-width="1.0"/>
<line x1="36.3" y1="555.4" x2="38.5" y2="555.4" stroke="#2f4f94" stroke-width="1.0"/>
<circle cx="31.6" cy="555.4" r="1.4" fill="#fff" stroke="#2f4f94" stroke-width="1.15"/>
<text x="41.76" y="558.5" font-size="9.9" text-anchor="start" font-weight="normal" fill="#1c1c1c" textLength="75.39" lengthAdjust="spacingAndGlyphs" stroke="#1c1c1c" stroke-width="0.18">iRC9-&#916;CD19 Rim</text>
<line x1="128.2" y1="540.5" x2="142" y2="540.5" stroke="#a8062f" stroke-width="0.95"/>
<rect x="133.8" y="539.2" width="2.6" height="2.6" fill="#a8062f"/>
<text x="145.26" y="543.6" font-size="9.9" text-anchor="start" font-weight="normal" fill="#1c1c1c" textLength="77.29" lengthAdjust="spacingAndGlyphs" stroke="#1c1c1c" stroke-width="0.18">iRC9-&#916;CD19-iMC</text>
<line x1="128.2" y1="555.4" x2="130.2" y2="555.4" stroke="#a8062f" stroke-width="1.0"/>
<line x1="139.8" y1="555.4" x2="142" y2="555.4" stroke="#a8062f" stroke-width="1.0"/>
<circle cx="135.1" cy="555.4" r="1.4" fill="#fff" stroke="#a8062f" stroke-width="1.15"/>
<text x="145.26" y="558.5" font-size="9.9" text-anchor="start" font-weight="normal" fill="#1c1c1c" textLength="96.49" lengthAdjust="spacingAndGlyphs" stroke="#1c1c1c" stroke-width="0.18">iRC9-&#916;CD19-iMC Rim</text>
<text x="8.1" y="612.1" font-size="14.2" text-anchor="start" font-weight="bold" fill="#000" stroke="#000" stroke-width="0.3">E</text>
<line x1="43.8" y1="619.2" x2="43.8" y2="741.7" stroke="#111" stroke-width="1.5"/>
<line x1="40" y1="741" x2="43.8" y2="741" stroke="#111" stroke-width="1.2"/>
<text x="36.3" y="743.3" font-size="9.6" text-anchor="end" font-weight="normal" fill="#1c1c1c" stroke="#1c1c1c" stroke-width="0.18">0</text>
<line x1="40" y1="717.32" x2="43.8" y2="717.32" stroke="#111" stroke-width="1.2"/>
<text x="36.3" y="719.62" font-size="9.6" text-anchor="end" font-weight="normal" fill="#1c1c1c" stroke="#1c1c1c" stroke-width="0.18">10</text>
<line x1="40" y1="693.64" x2="43.8" y2="693.64" stroke="#111" stroke-width="1.2"/>
<text x="36.3" y="695.94" font-size="9.6" text-anchor="end" font-weight="normal" fill="#1c1c1c" stroke="#1c1c1c" stroke-width="0.18">20</text>
<line x1="40" y1="669.96" x2="43.8" y2="669.96" stroke="#111" stroke-width="1.2"/>
<text x="36.3" y="672.26" font-size="9.6" text-anchor="end" font-weight="normal" fill="#1c1c1c" stroke="#1c1c1c" stroke-width="0.18">30</text>
<line x1="40" y1="646.28" x2="43.8" y2="646.28" stroke="#111" stroke-width="1.2"/>
<text x="36.3" y="648.58" font-size="9.6" text-anchor="end" font-weight="normal" fill="#1c1c1c" stroke="#1c1c1c" stroke-width="0.18">40</text>
<line x1="40" y1="622.6" x2="43.8" y2="622.6" stroke="#111" stroke-width="1.2"/>
<text x="36.3" y="624.9" font-size="9.6" text-anchor="end" font-weight="normal" fill="#1c1c1c" stroke="#1c1c1c" stroke-width="0.18">50</text>
<line x1="43.1" y1="741" x2="193.6" y2="741" stroke="#111" stroke-width="1.5"/>
<line x1="81.2" y1="741" x2="81.2" y2="744.6" stroke="#111" stroke-width="1.2"/>
<line x1="156.1" y1="741" x2="156.1" y2="744.6" stroke="#111" stroke-width="1.2"/>
<text x="81.4" y="756.9" font-size="9.4" text-anchor="middle" font-weight="normal" fill="#1c1c1c" textLength="38.83" lengthAdjust="spacingAndGlyphs" stroke="#1c1c1c" stroke-width="0.18">NK alone</text>
<text x="155.8" y="756.8" font-size="9.4" text-anchor="middle" font-weight="normal" fill="#1c1c1c" textLength="27.03" lengthAdjust="spacingAndGlyphs" stroke="#1c1c1c" stroke-width="0.18">THP-1</text>
<text transform="translate(18.9,680.2) rotate(-90)" x="0" y="0" font-size="11.8" text-anchor="middle" font-weight="normal" fill="#1c1c1c" textLength="80.4" lengthAdjust="spacingAndGlyphs" stroke="#1c1c1c" stroke-width="0.45">CD107a+ CD19+NK %</text>
<line x1="56.2" y1="662.5" x2="90" y2="662.5" stroke="#484848" stroke-width="1.5"/>
<polygon points="73.1,655.45 73.67,656.42 74.76,656.66 74.02,657.5 74.13,658.62 73.1,658.16 72.07,658.62 72.18,657.5 71.44,656.66 72.53,656.42" fill="#111"/>
<line x1="130.5" y1="636.6" x2="164.4" y2="636.6" stroke="#484848" stroke-width="1.5"/>
<polygon points="147.45,629.75 148.02,630.72 149.11,630.96 148.37,631.8 148.48,632.92 147.45,632.46 146.42,632.92 146.53,631.8 145.79,630.96 146.88,630.72" fill="#111"/>
<line x1="162.8" y1="625.2" x2="178.7" y2="625.2" stroke="#484848" stroke-width="1.5"/>
<polygon points="170.75,618.45 171.32,619.42 172.41,619.66 171.67,620.5 171.78,621.62 170.75,621.16 169.72,621.62 169.83,620.5 169.09,619.66 170.18,619.42" fill="#111"/>
<circle cx="57.4" cy="697.2" r="2.45" fill="#1d3a7e"/>
<circle cx="55.1" cy="715.4" r="2.45" fill="#1d3a7e"/>
<circle cx="59.1" cy="717" r="2.45" fill="#1d3a7e"/>
<circle cx="54.2" cy="717.7" r="2.45" fill="#1d3a7e"/>
<circle cx="59.8" cy="725.8" r="2.45" fill="#1d3a7e"/>
<circle cx="57.4" cy="733" r="2.45" fill="#1d3a7e"/>
<line x1="57.4" y1="712.3" x2="57.4" y2="723" stroke="#1d3a7e" stroke-width="1.3"/>
<line x1="54.7" y1="712.3" x2="60.1" y2="712.3" stroke="#1d3a7e" stroke-width="1.3"/>
<line x1="54.7" y1="723" x2="60.1" y2="723" stroke="#1d3a7e" stroke-width="1.3"/>
<line x1="52.7" y1="717.7" x2="62.1" y2="717.7" stroke="#1d3a7e" stroke-width="1.3"/>
<circle cx="73.4" cy="703.4" r="2.3" fill="#fff" stroke="#1d3a7e" stroke-width="1.25"/>
<circle cx="70.8" cy="715.4" r="2.3" fill="#fff" stroke="#1d3a7e" stroke-width="1.25"/>
<circle cx="76.2" cy="717.7" r="2.3" fill="#fff" stroke="#1d3a7e" stroke-width="1.25"/>
<circle cx="70.8" cy="724.6" r="2.3" fill="#fff" stroke="#1d3a7e" stroke-width="1.25"/>
<circle cx="76.2" cy="724.6" r="2.3" fill="#fff" stroke="#1d3a7e" stroke-width="1.25"/>
<circle cx="73.4" cy="735" r="2.3" fill="#fff" stroke="#1d3a7e" stroke-width="1.25"/>
<line x1="73.4" y1="715.5" x2="73.4" y2="724.5" stroke="#1d3a7e" stroke-width="1.3"/>
<line x1="70.7" y1="715.5" x2="76.1" y2="715.5" stroke="#1d3a7e" stroke-width="1.3"/>
<line x1="70.7" y1="724.5" x2="76.1" y2="724.5" stroke="#1d3a7e" stroke-width="1.3"/>
<line x1="68.7" y1="720" x2="78.1" y2="720" stroke="#1d3a7e" stroke-width="1.3"/>
<rect x="86.9" y="664.7" width="4.6" height="4.6" fill="#a8062f"/>
<rect x="83.9" y="704.2" width="4.6" height="4.6" fill="#a8062f"/>
<rect x="90" y="705.4" width="4.6" height="4.6" fill="#a8062f"/>
<rect x="85.4" y="720.5" width="4.6" height="4.6" fill="#a8062f"/>
<rect x="88.5" y="723.9" width="4.6" height="4.6" fill="#a8062f"/>
<line x1="89.2" y1="698" x2="89.2" y2="715.3" stroke="#a8062f" stroke-width="1.3"/>
<line x1="86.5" y1="698" x2="91.9" y2="698" stroke="#a8062f" stroke-width="1.3"/>
<line x1="86.5" y1="715.3" x2="91.9" y2="715.3" stroke="#a8062f" stroke-width="1.3"/>
<line x1="84.5" y1="707" x2="93.9" y2="707" stroke="#a8062f" stroke-width="1.3"/>
<rect x="103.1" y="660.5" width="4.6" height="4.6" fill="#fff" stroke="#a8062f" stroke-width="1.25"/>
<rect x="100.5" y="701.5" width="4.6" height="4.6" fill="#fff" stroke="#a8062f" stroke-width="1.25"/>
<rect x="105.4" y="706.9" width="4.6" height="4.6" fill="#fff" stroke="#a8062f" stroke-width="1.25"/>
<rect x="103.1" y="720.7" width="4.6" height="4.6" fill="#fff" stroke="#a8062f" stroke-width="1.25"/>
<rect x="103.1" y="729.7" width="4.6" height="4.6" fill="#fff" stroke="#a8062f" stroke-width="1.25"/>
<line x1="105.4" y1="696.6" x2="105.4" y2="715.8" stroke="#a8062f" stroke-width="1.3"/>
<line x1="102.7" y1="696.6" x2="108.1" y2="696.6" stroke="#a8062f" stroke-width="1.3"/>
<line x1="102.7" y1="715.8" x2="108.1" y2="715.8" stroke="#a8062f" stroke-width="1.3"/>
<line x1="100.7" y1="706.5" x2="110.1" y2="706.5" stroke="#a8062f" stroke-width="1.3"/>
<circle cx="134.5" cy="662.7" r="2.45" fill="#1d3a7e"/>
<circle cx="129.5" cy="668.6" r="2.45" fill="#1d3a7e"/>
<circle cx="129.5" cy="671.5" r="2.45" fill="#1d3a7e"/>
<circle cx="134.5" cy="676.3" r="2.45" fill="#1d3a7e"/>
<circle cx="132.2" cy="692.8" r="2.45" fill="#1d3a7e"/>
<circle cx="132.2" cy="707.1" r="2.45" fill="#1d3a7e"/>
<line x1="132.2" y1="672.6" x2="132.2" y2="686.7" stroke="#1d3a7e" stroke-width="1.3"/>
<line x1="129.5" y1="672.6" x2="134.9" y2="672.6" stroke="#1d3a7e" stroke-width="1.3"/>
<line x1="129.5" y1="686.7" x2="134.9" y2="686.7" stroke="#1d3a7e" stroke-width="1.3"/>
<line x1="127.5" y1="679.6" x2="136.9" y2="679.6" stroke="#1d3a7e" stroke-width="1.3"/>
<circle cx="148.5" cy="665.5" r="2.3" fill="#fff" stroke="#1d3a7e" stroke-width="1.25"/>
<circle cx="145.7" cy="670.1" r="2.3" fill="#fff" stroke="#1d3a7e" stroke-width="1.25"/>
<circle cx="150.7" cy="675.2" r="2.3" fill="#fff" stroke="#1d3a7e" stroke-width="1.25"/>
<circle cx="145.7" cy="687" r="2.3" fill="#fff" stroke="#1d3a7e" stroke-width="1.25"/>
<circle cx="150.7" cy="691.8" r="2.3" fill="#fff" stroke="#1d3a7e" stroke-width="1.25"/>
<circle cx="148" cy="701.1" r="2.3" fill="#fff" stroke="#1d3a7e" stroke-width="1.25"/>
<line x1="148" y1="675.5" x2="148" y2="688" stroke="#1d3a7e" stroke-width="1.3"/>
<line x1="145.3" y1="675.5" x2="150.7" y2="675.5" stroke="#1d3a7e" stroke-width="1.3"/>
<line x1="145.3" y1="688" x2="150.7" y2="688" stroke="#1d3a7e" stroke-width="1.3"/>
<line x1="143.3" y1="681.9" x2="152.7" y2="681.9" stroke="#1d3a7e" stroke-width="1.3"/>
<rect x="162.1" y="640.4" width="4.6" height="4.6" fill="#a8062f"/>
<rect x="159.5" y="655.9" width="4.6" height="4.6" fill="#a8062f"/>
<rect x="164.3" y="659.3" width="4.6" height="4.6" fill="#a8062f"/>
<rect x="159.5" y="671.2" width="4.6" height="4.6" fill="#a8062f"/>
<rect x="164.3" y="673.7" width="4.6" height="4.6" fill="#a8062f"/>
<rect x="162.1" y="688.3" width="4.6" height="4.6" fill="#a8062f"/>
<line x1="164.4" y1="660.8" x2="164.4" y2="673.8" stroke="#a8062f" stroke-width="1.3"/>
<line x1="161.7" y1="660.8" x2="167.1" y2="660.8" stroke="#a8062f" stroke-width="1.3"/>
<line x1="161.7" y1="673.8" x2="167.1" y2="673.8" stroke="#a8062f" stroke-width="1.3"/>
<line x1="159.7" y1="667" x2="169.1" y2="667" stroke="#a8062f" stroke-width="1.3"/>
<rect x="179.3" y="633.4" width="4.6" height="4.6" fill="#fff" stroke="#a8062f" stroke-width="1.25"/>
<rect x="176.7" y="639.9" width="4.6" height="4.6" fill="#fff" stroke="#a8062f" stroke-width="1.25"/>
<rect x="175.3" y="657.7" width="4.6" height="4.6" fill="#fff" stroke="#a8062f" stroke-width="1.25"/>
<rect x="177.8" y="661.5" width="4.6" height="4.6" fill="#fff" stroke="#a8062f" stroke-width="1.25"/>
<rect x="175.2" y="664.6" width="4.6" height="4.6" fill="#fff" stroke="#a8062f" stroke-width="1.25"/>
<rect x="180.4" y="670.7" width="4.6" height="4.6" fill="#fff" stroke="#a8062f" stroke-width="1.25"/>
<line x1="180.1" y1="651.5" x2="180.1" y2="665" stroke="#a8062f" stroke-width="1.3"/>
<line x1="177.4" y1="651.5" x2="182.8" y2="651.5" stroke="#a8062f" stroke-width="1.3"/>
<line x1="177.4" y1="665" x2="182.8" y2="665" stroke="#a8062f" stroke-width="1.3"/>
<line x1="175.4" y1="659.4" x2="184.8" y2="659.4" stroke="#a8062f" stroke-width="1.3"/>
<circle cx="22.1" cy="768.6" r="2.45" fill="#1d3a7e"/>
<circle cx="22.1" cy="783.8" r="2.3" fill="#fff" stroke="#1d3a7e" stroke-width="1.25"/>
<rect x="115.1" y="766.3" width="4.6" height="4.6" fill="#a8062f"/>
<rect x="115.1" y="781.5" width="4.6" height="4.6" fill="#fff" stroke="#a8062f" stroke-width="1.25"/>
<text x="27.56" y="771.7" font-size="9.9" text-anchor="start" font-weight="normal" fill="#1c1c1c" textLength="57.09" lengthAdjust="spacingAndGlyphs" stroke="#1c1c1c" stroke-width="0.18">iRC9-&#916;CD19</text>
<text x="27.56" y="786.9" font-size="9.9" text-anchor="start" font-weight="normal" fill="#1c1c1c" textLength="75.79" lengthAdjust="spacingAndGlyphs" stroke="#1c1c1c" stroke-width="0.18">iRC9-&#916;CD19 Rim</text>
<text x="122.86" y="771.7" font-size="9.9" text-anchor="start" font-weight="normal" fill="#1c1c1c" textLength="77.69" lengthAdjust="spacingAndGlyphs" stroke="#1c1c1c" stroke-width="0.18">iRC9-&#916;CD19-iMC</text>
<text x="122.86" y="786.9" font-size="9.9" text-anchor="start" font-weight="normal" fill="#1c1c1c" textLength="96.19" lengthAdjust="spacingAndGlyphs" stroke="#1c1c1c" stroke-width="0.18">iRC9-&#916;CD19-iMC Rim</text>
<text x="289.5" y="17.9" font-size="14.2" text-anchor="start" font-weight="bold" fill="#000" stroke="#000" stroke-width="0.3">F</text>
<line x1="345.7" y1="51.2" x2="345.7" y2="171.1" stroke="#111" stroke-width="1.5"/>
<line x1="341.9" y1="170.4" x2="345.7" y2="170.4" stroke="#111" stroke-width="1.2"/>
<text x="339" y="172.7" font-size="9.6" text-anchor="end" font-weight="normal" fill="#1c1c1c" stroke="#1c1c1c" stroke-width="0.18">0</text>
<line x1="341.9" y1="147.15" x2="345.7" y2="147.15" stroke="#111" stroke-width="1.2"/>
<text x="339" y="149.45" font-size="9.6" text-anchor="end" font-weight="normal" fill="#1c1c1c" stroke="#1c1c1c" stroke-width="0.18">5</text>
<line x1="341.9" y1="123.9" x2="345.7" y2="123.9" stroke="#111" stroke-width="1.2"/>
<text x="339" y="126.2" font-size="9.6" text-anchor="end" font-weight="normal" fill="#1c1c1c" stroke="#1c1c1c" stroke-width="0.18">10</text>
<line x1="341.9" y1="100.65" x2="345.7" y2="100.65" stroke="#111" stroke-width="1.2"/>
<text x="339" y="102.95" font-size="9.6" text-anchor="end" font-weight="normal" fill="#1c1c1c" stroke="#1c1c1c" stroke-width="0.18">15</text>
<line x1="341.9" y1="77.4" x2="345.7" y2="77.4" stroke="#111" stroke-width="1.2"/>
<text x="339" y="79.7" font-size="9.6" text-anchor="end" font-weight="normal" fill="#1c1c1c" stroke="#1c1c1c" stroke-width="0.18">20</text>
<line x1="341.9" y1="54.15" x2="345.7" y2="54.15" stroke="#111" stroke-width="1.2"/>
<text x="339" y="56.45" font-size="9.6" text-anchor="end" font-weight="normal" fill="#1c1c1c" stroke="#1c1c1c" stroke-width="0.18">25</text>
<line x1="345" y1="170.4" x2="478.2" y2="170.4" stroke="#111" stroke-width="1.5"/>
<line x1="378.2" y1="170.4" x2="378.2" y2="174" stroke="#111" stroke-width="1.2"/>
<line x1="444.7" y1="170.4" x2="444.7" y2="174" stroke="#111" stroke-width="1.2"/>
<text x="378.3" y="186.4" font-size="9.4" text-anchor="middle" font-weight="normal" fill="#1c1c1c" textLength="38.83" lengthAdjust="spacingAndGlyphs" stroke="#1c1c1c" stroke-width="0.18">NK alone</text>
<text x="443.8" y="186.4" font-size="9.4" text-anchor="middle" font-weight="normal" fill="#1c1c1c" textLength="27.03" lengthAdjust="spacingAndGlyphs" stroke="#1c1c1c" stroke-width="0.18">THP-1</text>
<text transform="translate(320.7,110.75) rotate(-90)" x="0" y="0" font-size="11.8" text-anchor="middle" font-weight="normal" fill="#1c1c1c" textLength="98.8" lengthAdjust="spacingAndGlyphs" stroke="#1c1c1c" stroke-width="0.45">IFN-&#947; positive CD19+NK %</text>
<line x1="385.4" y1="99.7" x2="398.9" y2="99.7" stroke="#484848" stroke-width="1.5"/>
<polygon points="388.55,93.05 389.12,94.02 390.21,94.26 389.47,95.1 389.58,96.22 388.55,95.76 387.52,96.22 387.63,95.1 386.89,94.26 387.98,94.02" fill="#111"/>
<polygon points="392.15,93.05 392.72,94.02 393.81,94.26 393.07,95.1 393.18,96.22 392.15,95.76 391.12,96.22 391.23,95.1 390.49,94.26 391.58,94.02" fill="#111"/>
<polygon points="395.75,93.05 396.32,94.02 397.41,94.26 396.67,95.1 396.78,96.22 395.75,95.76 394.72,96.22 394.83,95.1 394.09,94.26 395.18,94.02" fill="#111"/>
<line x1="420.5" y1="99.8" x2="449.8" y2="99.8" stroke="#484848" stroke-width="1.5"/>
<polygon points="433.35,92.95 433.92,93.92 435.01,94.16 434.27,95 434.38,96.12 433.35,95.66 432.32,96.12 432.43,95 431.69,94.16 432.78,93.92" fill="#111"/>
<polygon points="436.95,92.95 437.52,93.92 438.61,94.16 437.87,95 437.98,96.12 436.95,95.66 435.92,96.12 436.03,95 435.29,94.16 436.38,93.92" fill="#111"/>
<line x1="450.3" y1="51.5" x2="467.6" y2="51.5" stroke="#484848" stroke-width="1.5"/>
<polygon points="458.95,44.65 459.52,45.62 460.61,45.86 459.87,46.7 459.98,47.82 458.95,47.36 457.92,47.82 458.03,46.7 457.29,45.86 458.38,45.62" fill="#111"/>
<circle cx="357.4" cy="158.2" r="2.45" fill="#1d3a7e"/>
<circle cx="355.4" cy="164.6" r="2.45" fill="#1d3a7e"/>
<circle cx="357.4" cy="166.9" r="2.45" fill="#1d3a7e"/>
<circle cx="360" cy="167.7" r="2.45" fill="#1d3a7e"/>
<circle cx="357.4" cy="171" r="2.45" fill="#1d3a7e"/>
<circle cx="356.4" cy="168.5" r="2.45" fill="#1d3a7e"/>
<line x1="357.4" y1="164" x2="357.4" y2="170" stroke="#1d3a7e" stroke-width="1.3"/>
<line x1="354.7" y1="164" x2="360.1" y2="164" stroke="#1d3a7e" stroke-width="1.3"/>
<line x1="354.7" y1="170" x2="360.1" y2="170" stroke="#1d3a7e" stroke-width="1.3"/>
<line x1="352.7" y1="167" x2="362.1" y2="167" stroke="#1d3a7e" stroke-width="1.3"/>
<circle cx="372.6" cy="154.6" r="2.3" fill="#fff" stroke="#1d3a7e" stroke-width="1.25"/>
<circle cx="371" cy="156.5" r="2.3" fill="#fff" stroke="#1d3a7e" stroke-width="1.25"/>
<circle cx="368.8" cy="165.4" r="2.3" fill="#fff" stroke="#1d3a7e" stroke-width="1.25"/>
<circle cx="374.2" cy="167" r="2.3" fill="#fff" stroke="#1d3a7e" stroke-width="1.25"/>
<circle cx="371" cy="168" r="2.3" fill="#fff" stroke="#1d3a7e" stroke-width="1.25"/>
<circle cx="373" cy="169" r="2.3" fill="#fff" stroke="#1d3a7e" stroke-width="1.25"/>
<line x1="371.8" y1="157" x2="371.8" y2="163.5" stroke="#1d3a7e" stroke-width="1.3"/>
<line x1="369.1" y1="157" x2="374.5" y2="157" stroke="#1d3a7e" stroke-width="1.3"/>
<line x1="369.1" y1="163.5" x2="374.5" y2="163.5" stroke="#1d3a7e" stroke-width="1.3"/>
<line x1="367.1" y1="160" x2="376.5" y2="160" stroke="#1d3a7e" stroke-width="1.3"/>
<rect x="383.4" y="131.5" width="4.6" height="4.6" fill="#a8062f"/>
<rect x="383.4" y="146.2" width="4.6" height="4.6" fill="#a8062f"/>
<rect x="381.2" y="153.1" width="4.6" height="4.6" fill="#a8062f"/>
<rect x="386.2" y="154.3" width="4.6" height="4.6" fill="#a8062f"/>
<rect x="381.2" y="164.6" width="4.6" height="4.6" fill="#a8062f"/>
<rect x="386.2" y="164.6" width="4.6" height="4.6" fill="#a8062f"/>
<line x1="385.7" y1="149.5" x2="385.7" y2="162" stroke="#a8062f" stroke-width="1.3"/>
<line x1="383" y1="149.5" x2="388.4" y2="149.5" stroke="#a8062f" stroke-width="1.3"/>
<line x1="383" y1="162" x2="388.4" y2="162" stroke="#a8062f" stroke-width="1.3"/>
<line x1="381" y1="156.5" x2="390.4" y2="156.5" stroke="#a8062f" stroke-width="1.3"/>
<rect x="397.4" y="106.6" width="4.6" height="4.6" fill="#fff" stroke="#a8062f" stroke-width="1.25"/>
<rect x="395.1" y="126.2" width="4.6" height="4.6" fill="#fff" stroke="#a8062f" stroke-width="1.25"/>
<rect x="398.7" y="127.2" width="4.6" height="4.6" fill="#fff" stroke="#a8062f" stroke-width="1.25"/>
<rect x="395.1" y="138.2" width="4.6" height="4.6" fill="#fff" stroke="#a8062f" stroke-width="1.25"/>
<rect x="399.2" y="142.3" width="4.6" height="4.6" fill="#fff" stroke="#a8062f" stroke-width="1.25"/>
<line x1="399.7" y1="126" x2="399.7" y2="140.5" stroke="#a8062f" stroke-width="1.3"/>
<line x1="397" y1="126" x2="402.4" y2="126" stroke="#a8062f" stroke-width="1.3"/>
<line x1="397" y1="140.5" x2="402.4" y2="140.5" stroke="#a8062f" stroke-width="1.3"/>
<line x1="395" y1="133.1" x2="404.4" y2="133.1" stroke="#a8062f" stroke-width="1.3"/>
<circle cx="425.2" cy="119.9" r="2.45" fill="#1d3a7e"/>
<circle cx="421.7" cy="127.2" r="2.45" fill="#1d3a7e"/>
<circle cx="423.2" cy="143.3" r="2.45" fill="#1d3a7e"/>
<circle cx="423.2" cy="158.2" r="2.45" fill="#1d3a7e"/>
<circle cx="421.7" cy="164.1" r="2.45" fill="#1d3a7e"/>
<circle cx="425" cy="165.8" r="2.45" fill="#1d3a7e"/>
<line x1="423.2" y1="138.2" x2="423.2" y2="154.3" stroke="#1d3a7e" stroke-width="1.3"/>
<line x1="420.5" y1="138.2" x2="425.9" y2="138.2" stroke="#1d3a7e" stroke-width="1.3"/>
<line x1="420.5" y1="154.3" x2="425.9" y2="154.3" stroke="#1d3a7e" stroke-width="1.3"/>
<line x1="418.5" y1="146.7" x2="427.9" y2="146.7" stroke="#1d3a7e" stroke-width="1.3"/>
<circle cx="437.6" cy="124.3" r="2.3" fill="#fff" stroke="#1d3a7e" stroke-width="1.25"/>
<circle cx="437.6" cy="144.6" r="2.3" fill="#fff" stroke="#1d3a7e" stroke-width="1.25"/>
<circle cx="439" cy="150" r="2.3" fill="#fff" stroke="#1d3a7e" stroke-width="1.25"/>
<circle cx="435.5" cy="163.2" r="2.3" fill="#fff" stroke="#1d3a7e" stroke-width="1.25"/>
<circle cx="438" cy="164.4" r="2.3" fill="#fff" stroke="#1d3a7e" stroke-width="1.25"/>
<circle cx="440.5" cy="165.6" r="2.3" fill="#fff" stroke="#1d3a7e" stroke-width="1.25"/>
<line x1="437.6" y1="145.8" x2="437.6" y2="158.5" stroke="#1d3a7e" stroke-width="1.3"/>
<line x1="434.9" y1="145.8" x2="440.3" y2="145.8" stroke="#1d3a7e" stroke-width="1.3"/>
<line x1="434.9" y1="158.5" x2="440.3" y2="158.5" stroke="#1d3a7e" stroke-width="1.3"/>
<line x1="432.9" y1="152.2" x2="442.3" y2="152.2" stroke="#1d3a7e" stroke-width="1.3"/>
<rect x="449.2" y="101.7" width="4.6" height="4.6" fill="#a8062f"/>
<rect x="447.7" y="105.4" width="4.6" height="4.6" fill="#a8062f"/>
<rect x="450.2" y="108.5" width="4.6" height="4.6" fill="#a8062f"/>
<rect x="451.2" y="112.2" width="4.6" height="4.6" fill="#a8062f"/>
<rect x="449.2" y="121.5" width="4.6" height="4.6" fill="#a8062f"/>
<rect x="449.2" y="139.8" width="4.6" height="4.6" fill="#a8062f"/>
<line x1="451.5" y1="113" x2="451.5" y2="122" stroke="#a8062f" stroke-width="1.3"/>
<line x1="448.8" y1="113" x2="454.2" y2="113" stroke="#a8062f" stroke-width="1.3"/>
<line x1="448.8" y1="122" x2="454.2" y2="122" stroke="#a8062f" stroke-width="1.3"/>
<line x1="446.8" y1="117.5" x2="456.2" y2="117.5" stroke="#a8062f" stroke-width="1.3"/>
<rect x="463.6" y="63.4" width="4.6" height="4.6" fill="#fff" stroke="#a8062f" stroke-width="1.25"/>
<rect x="460.9" y="72.9" width="4.6" height="4.6" fill="#fff" stroke="#a8062f" stroke-width="1.25"/>
<rect x="465.3" y="79.2" width="4.6" height="4.6" fill="#fff" stroke="#a8062f" stroke-width="1.25"/>
<rect x="460.9" y="89.3" width="4.6" height="4.6" fill="#fff" stroke="#a8062f" stroke-width="1.25"/>
<rect x="465.3" y="94.1" width="4.6" height="4.6" fill="#fff" stroke="#a8062f" stroke-width="1.25"/>
<rect x="463.6" y="104.2" width="4.6" height="4.6" fill="#fff" stroke="#a8062f" stroke-width="1.25"/>
<line x1="465.9" y1="80.3" x2="465.9" y2="90.8" stroke="#a8062f" stroke-width="1.3"/>
<line x1="463.2" y1="80.3" x2="468.6" y2="80.3" stroke="#a8062f" stroke-width="1.3"/>
<line x1="463.2" y1="90.8" x2="468.6" y2="90.8" stroke="#a8062f" stroke-width="1.3"/>
<line x1="461.2" y1="86" x2="470.6" y2="86" stroke="#a8062f" stroke-width="1.3"/>
<circle cx="351.8" cy="46.4" r="2.45" fill="#1d3a7e"/>
<text x="357.56" y="49.4" font-size="9.9" text-anchor="start" font-weight="normal" fill="#1c1c1c" textLength="56.89" lengthAdjust="spacingAndGlyphs" stroke="#1c1c1c" stroke-width="0.18">iRC9-&#916;CD19</text>
<circle cx="351.8" cy="57.3" r="2.3" fill="#fff" stroke="#1d3a7e" stroke-width="1.25"/>
<text x="357.56" y="60.3" font-size="9.9" text-anchor="start" font-weight="normal" fill="#1c1c1c" textLength="75.89" lengthAdjust="spacingAndGlyphs" stroke="#1c1c1c" stroke-width="0.18">iRC9-&#916;CD19 Rim</text>
<rect x="349.5" y="66.2" width="4.6" height="4.6" fill="#a8062f"/>
<text x="357.56" y="71.5" font-size="9.9" text-anchor="start" font-weight="normal" fill="#1c1c1c" textLength="77.69" lengthAdjust="spacingAndGlyphs" stroke="#1c1c1c" stroke-width="0.18">iRC9-&#916;CD19-iMC</text>
<rect x="349.5" y="77.3" width="4.6" height="4.6" fill="#fff" stroke="#a8062f" stroke-width="1.25"/>
<text x="357.56" y="82.6" font-size="9.9" text-anchor="start" font-weight="normal" fill="#1c1c1c" textLength="96.19" lengthAdjust="spacingAndGlyphs" stroke="#1c1c1c" stroke-width="0.18">iRC9-&#916;CD19-iMC Rim</text>
<text x="288.4" y="209" font-size="14.2" text-anchor="start" font-weight="bold" fill="#000" stroke="#000" stroke-width="0.3">G</text>
<line x1="345.5" y1="216.4" x2="345.5" y2="335.7" stroke="#111" stroke-width="1.5"/>
<line x1="341.7" y1="335" x2="345.5" y2="335" stroke="#111" stroke-width="1.2"/>
<text x="339.5" y="337.3" font-size="9.6" text-anchor="end" font-weight="normal" fill="#1c1c1c" stroke="#1c1c1c" stroke-width="0.18">0</text>
<line x1="341.7" y1="311.78" x2="345.5" y2="311.78" stroke="#111" stroke-width="1.2"/>
<text x="339.5" y="314.08" font-size="9.6" text-anchor="end" font-weight="normal" fill="#1c1c1c" stroke="#1c1c1c" stroke-width="0.18">5</text>
<line x1="341.7" y1="288.56" x2="345.5" y2="288.56" stroke="#111" stroke-width="1.2"/>
<text x="339.5" y="290.86" font-size="9.6" text-anchor="end" font-weight="normal" fill="#1c1c1c" stroke="#1c1c1c" stroke-width="0.18">10</text>
<line x1="341.7" y1="265.34" x2="345.5" y2="265.34" stroke="#111" stroke-width="1.2"/>
<text x="339.5" y="267.64" font-size="9.6" text-anchor="end" font-weight="normal" fill="#1c1c1c" stroke="#1c1c1c" stroke-width="0.18">15</text>
<line x1="341.7" y1="242.12" x2="345.5" y2="242.12" stroke="#111" stroke-width="1.2"/>
<text x="339.5" y="244.42" font-size="9.6" text-anchor="end" font-weight="normal" fill="#1c1c1c" stroke="#1c1c1c" stroke-width="0.18">20</text>
<line x1="341.7" y1="218.9" x2="345.5" y2="218.9" stroke="#111" stroke-width="1.2"/>
<text x="339.5" y="221.2" font-size="9.6" text-anchor="end" font-weight="normal" fill="#1c1c1c" stroke="#1c1c1c" stroke-width="0.18">25</text>
<line x1="344.8" y1="335" x2="478" y2="335" stroke="#111" stroke-width="1.5"/>
<line x1="378.5" y1="335" x2="378.5" y2="338.6" stroke="#111" stroke-width="1.2"/>
<line x1="443.3" y1="335" x2="443.3" y2="338.6" stroke="#111" stroke-width="1.2"/>
<text x="378.5" y="350.9" font-size="9.4" text-anchor="middle" font-weight="normal" fill="#1c1c1c" textLength="38.63" lengthAdjust="spacingAndGlyphs" stroke="#1c1c1c" stroke-width="0.18">NK alone</text>
<text x="443.3" y="351.1" font-size="9.4" text-anchor="middle" font-weight="normal" fill="#1c1c1c" textLength="26.63" lengthAdjust="spacingAndGlyphs" stroke="#1c1c1c" stroke-width="0.18">THP-1</text>
<text transform="translate(320.4,274.9) rotate(-90)" x="0" y="0" font-size="11.8" text-anchor="middle" font-weight="normal" fill="#1c1c1c" textLength="76.5" lengthAdjust="spacingAndGlyphs" stroke="#1c1c1c" stroke-width="0.45">TNF&#945;+ CD19+NK %</text>
<line x1="380.8" y1="263.4" x2="400.8" y2="263.4" stroke="#484848" stroke-width="1.5"/>
<polygon points="387.2,256.75 387.77,257.72 388.86,257.96 388.12,258.8 388.23,259.92 387.2,259.46 386.17,259.92 386.28,258.8 385.54,257.96 386.63,257.72" fill="#111"/>
<polygon points="390.8,256.75 391.37,257.72 392.46,257.96 391.72,258.8 391.83,259.92 390.8,259.46 389.77,259.92 389.88,258.8 389.14,257.96 390.23,257.72" fill="#111"/>
<polygon points="394.4,256.75 394.97,257.72 396.06,257.96 395.32,258.8 395.43,259.92 394.4,259.46 393.37,259.92 393.48,258.8 392.74,257.96 393.83,257.72" fill="#111"/>
<line x1="446" y1="221.1" x2="462.4" y2="221.1" stroke="#484848" stroke-width="1.5"/>
<polygon points="450.6,214.25 451.17,215.22 452.26,215.46 451.52,216.3 451.63,217.42 450.6,216.96 449.57,217.42 449.68,216.3 448.94,215.46 450.03,215.22" fill="#111"/>
<polygon points="454.2,214.25 454.77,215.22 455.86,215.46 455.12,216.3 455.23,217.42 454.2,216.96 453.17,217.42 453.28,216.3 452.54,215.46 453.63,215.22" fill="#111"/>
<polygon points="457.8,214.25 458.37,215.22 459.46,215.46 458.72,216.3 458.83,217.42 457.8,216.96 456.77,217.42 456.88,216.3 456.14,215.46 457.23,215.22" fill="#111"/>
<circle cx="357.4" cy="312" r="2.45" fill="#1d3a7e"/>
<circle cx="357.4" cy="324.9" r="2.45" fill="#1d3a7e"/>
<circle cx="355" cy="330.8" r="2.45" fill="#1d3a7e"/>
<circle cx="359" cy="331.5" r="2.45" fill="#1d3a7e"/>
<circle cx="357.4" cy="333" r="2.45" fill="#1d3a7e"/>
<line x1="357.4" y1="324.5" x2="357.4" y2="330" stroke="#1d3a7e" stroke-width="1.3"/>
<line x1="354.7" y1="324.5" x2="360.1" y2="324.5" stroke="#1d3a7e" stroke-width="1.3"/>
<line x1="354.7" y1="330" x2="360.1" y2="330" stroke="#1d3a7e" stroke-width="1.3"/>
<line x1="352.7" y1="327.2" x2="362.1" y2="327.2" stroke="#1d3a7e" stroke-width="1.3"/>
<circle cx="372.5" cy="321" r="2.3" fill="#fff" stroke="#1d3a7e" stroke-width="1.25"/>
<circle cx="370" cy="327.4" r="2.3" fill="#fff" stroke="#1d3a7e" stroke-width="1.25"/>
<circle cx="371.4" cy="329.6" r="2.3" fill="#fff" stroke="#1d3a7e" stroke-width="1.25"/>
<circle cx="373" cy="331.6" r="2.3" fill="#fff" stroke="#1d3a7e" stroke-width="1.25"/>
<circle cx="373.8" cy="333.6" r="2.3" fill="#fff" stroke="#1d3a7e" stroke-width="1.25"/>
<line x1="371.8" y1="326" x2="371.8" y2="331.5" stroke="#1d3a7e" stroke-width="1.3"/>
<line x1="369.1" y1="326" x2="374.5" y2="326" stroke="#1d3a7e" stroke-width="1.3"/>
<line x1="369.1" y1="331.5" x2="374.5" y2="331.5" stroke="#1d3a7e" stroke-width="1.3"/>
<line x1="367.1" y1="328.8" x2="376.5" y2="328.8" stroke="#1d3a7e" stroke-width="1.3"/>
<rect x="385.4" y="308.9" width="4.6" height="4.6" fill="#a8062f"/>
<rect x="380.7" y="313.1" width="4.6" height="4.6" fill="#a8062f"/>
<rect x="380.7" y="315.4" width="4.6" height="4.6" fill="#a8062f"/>
<rect x="383.1" y="317.7" width="4.6" height="4.6" fill="#a8062f"/>
<rect x="385.7" y="321.5" width="4.6" height="4.6" fill="#a8062f"/>
<rect x="380.7" y="323.9" width="4.6" height="4.6" fill="#a8062f"/>
<rect x="385.4" y="330.7" width="4.6" height="4.6" fill="#a8062f"/>
<line x1="385.4" y1="318" x2="385.4" y2="326.5" stroke="#a8062f" stroke-width="1.3"/>
<line x1="382.7" y1="318" x2="388.1" y2="318" stroke="#a8062f" stroke-width="1.3"/>
<line x1="382.7" y1="326.5" x2="388.1" y2="326.5" stroke="#a8062f" stroke-width="1.3"/>
<line x1="380.7" y1="322.3" x2="390.1" y2="322.3" stroke="#a8062f" stroke-width="1.3"/>
<rect x="399.2" y="267.7" width="4.6" height="4.6" fill="#fff" stroke="#a8062f" stroke-width="1.25"/>
<rect x="395.1" y="273.9" width="4.6" height="4.6" fill="#fff" stroke="#a8062f" stroke-width="1.25"/>
<rect x="396.9" y="275.1" width="4.6" height="4.6" fill="#fff" stroke="#a8062f" stroke-width="1.25"/>
<rect x="396.9" y="295.4" width="4.6" height="4.6" fill="#fff" stroke="#a8062f" stroke-width="1.25"/>
<rect x="398.7" y="298.5" width="4.6" height="4.6" fill="#fff" stroke="#a8062f" stroke-width="1.25"/>
<rect x="396.9" y="309.7" width="4.6" height="4.6" fill="#fff" stroke="#a8062f" stroke-width="1.25"/>
<line x1="399.2" y1="282.6" x2="399.2" y2="294.6" stroke="#a8062f" stroke-width="1.3"/>
<line x1="396.5" y1="282.6" x2="401.9" y2="282.6" stroke="#a8062f" stroke-width="1.3"/>
<line x1="396.5" y1="294.6" x2="401.9" y2="294.6" stroke="#a8062f" stroke-width="1.3"/>
<line x1="394.5" y1="289.2" x2="403.9" y2="289.2" stroke="#a8062f" stroke-width="1.3"/>
<circle cx="422.7" cy="254.9" r="2.45" fill="#1d3a7e"/>
<circle cx="420.5" cy="260" r="2.45" fill="#1d3a7e"/>
<circle cx="422.5" cy="262.8" r="2.45" fill="#1d3a7e"/>
<circle cx="424.7" cy="266.7" r="2.45" fill="#1d3a7e"/>
<circle cx="422.7" cy="303.1" r="2.45" fill="#1d3a7e"/>
<circle cx="422.7" cy="312.1" r="2.45" fill="#1d3a7e"/>
<line x1="422.7" y1="266.7" x2="422.7" y2="286.7" stroke="#1d3a7e" stroke-width="1.3"/>
<line x1="420" y1="266.7" x2="425.4" y2="266.7" stroke="#1d3a7e" stroke-width="1.3"/>
<line x1="420" y1="286.7" x2="425.4" y2="286.7" stroke="#1d3a7e" stroke-width="1.3"/>
<line x1="418" y1="276.9" x2="427.4" y2="276.9" stroke="#1d3a7e" stroke-width="1.3"/>
<circle cx="437" cy="260.8" r="2.3" fill="#fff" stroke="#1d3a7e" stroke-width="1.25"/>
<circle cx="435" cy="269.3" r="2.3" fill="#fff" stroke="#1d3a7e" stroke-width="1.25"/>
<circle cx="437.5" cy="270.1" r="2.3" fill="#fff" stroke="#1d3a7e" stroke-width="1.25"/>
<circle cx="438.5" cy="276.9" r="2.3" fill="#fff" stroke="#1d3a7e" stroke-width="1.25"/>
<circle cx="436.7" cy="299.7" r="2.3" fill="#fff" stroke="#1d3a7e" stroke-width="1.25"/>
<circle cx="436.7" cy="318.3" r="2.3" fill="#fff" stroke="#1d3a7e" stroke-width="1.25"/>
<line x1="436.7" y1="274.3" x2="436.7" y2="291.6" stroke="#1d3a7e" stroke-width="1.3"/>
<line x1="434" y1="274.3" x2="439.4" y2="274.3" stroke="#1d3a7e" stroke-width="1.3"/>
<line x1="434" y1="291.6" x2="439.4" y2="291.6" stroke="#1d3a7e" stroke-width="1.3"/>
<line x1="432" y1="282.8" x2="441.4" y2="282.8" stroke="#1d3a7e" stroke-width="1.3"/>
<rect x="448.3" y="266.1" width="4.6" height="4.6" fill="#a8062f"/>
<rect x="446.7" y="273.7" width="4.6" height="4.6" fill="#a8062f"/>
<rect x="450.2" y="277.1" width="4.6" height="4.6" fill="#a8062f"/>
<rect x="446.7" y="289" width="4.6" height="4.6" fill="#a8062f"/>
<rect x="450.2" y="292" width="4.6" height="4.6" fill="#a8062f"/>
<rect x="448.3" y="301.6" width="4.6" height="4.6" fill="#a8062f"/>
<line x1="450.6" y1="280.8" x2="450.6" y2="290.9" stroke="#a8062f" stroke-width="1.3"/>
<line x1="447.9" y1="280.8" x2="453.3" y2="280.8" stroke="#a8062f" stroke-width="1.3"/>
<line x1="447.9" y1="290.9" x2="453.3" y2="290.9" stroke="#a8062f" stroke-width="1.3"/>
<line x1="445.9" y1="285.8" x2="455.3" y2="285.8" stroke="#a8062f" stroke-width="1.3"/>
<rect x="462.7" y="227.7" width="4.6" height="4.6" fill="#fff" stroke="#a8062f" stroke-width="1.25"/>
<rect x="461.2" y="230.3" width="4.6" height="4.6" fill="#fff" stroke="#a8062f" stroke-width="1.25"/>
<rect x="463.2" y="232.3" width="4.6" height="4.6" fill="#fff" stroke="#a8062f" stroke-width="1.25"/>
<rect x="464.2" y="236.5" width="4.6" height="4.6" fill="#fff" stroke="#a8062f" stroke-width="1.25"/>
<rect x="461.2" y="238.6" width="4.6" height="4.6" fill="#fff" stroke="#a8062f" stroke-width="1.25"/>
<rect x="463.2" y="244.7" width="4.6" height="4.6" fill="#fff" stroke="#a8062f" stroke-width="1.25"/>
<line x1="465" y1="233" x2="465" y2="241.5" stroke="#a8062f" stroke-width="1.3"/>
<line x1="462.3" y1="233" x2="467.7" y2="233" stroke="#a8062f" stroke-width="1.3"/>
<line x1="462.3" y1="241.5" x2="467.7" y2="241.5" stroke="#a8062f" stroke-width="1.3"/>
<line x1="460.3" y1="237.1" x2="469.7" y2="237.1" stroke="#a8062f" stroke-width="1.3"/>
<circle cx="314.8" cy="362.5" r="2.45" fill="#1d3a7e"/>
<circle cx="314.8" cy="377.3" r="2.3" fill="#fff" stroke="#1d3a7e" stroke-width="1.25"/>
<rect x="407.4" y="360.2" width="4.6" height="4.6" fill="#a8062f"/>
<rect x="407.4" y="375" width="4.6" height="4.6" fill="#fff" stroke="#a8062f" stroke-width="1.25"/>
<text x="320.26" y="365.6" font-size="9.9" text-anchor="start" font-weight="normal" fill="#1c1c1c" textLength="57.09" lengthAdjust="spacingAndGlyphs" stroke="#1c1c1c" stroke-width="0.18">iRC9-&#916;CD19</text>
<text x="320.26" y="380.4" font-size="9.9" text-anchor="start" font-weight="normal" fill="#1c1c1c" textLength="76.19" lengthAdjust="spacingAndGlyphs" stroke="#1c1c1c" stroke-width="0.18">iRC9-&#916;CD19 Rim</text>
<text x="415.16" y="365.6" font-size="9.9" text-anchor="start" font-weight="normal" fill="#1c1c1c" textLength="77.19" lengthAdjust="spacingAndGlyphs" stroke="#1c1c1c" stroke-width="0.18">iRC9-&#916;CD19-iMC</text>
<text x="415.16" y="380.4" font-size="9.9" text-anchor="start" font-weight="normal" fill="#1c1c1c" textLength="96.09" lengthAdjust="spacingAndGlyphs" stroke="#1c1c1c" stroke-width="0.18">iRC9-&#916;CD19-iMC Rim</text>
<text x="288.4" y="402.6" font-size="14.2" text-anchor="start" font-weight="bold" fill="#000" stroke="#000" stroke-width="0.3">H</text>
<line x1="345.6" y1="402.3" x2="345.6" y2="513.5" stroke="#111" stroke-width="1.5"/>
<line x1="341.8" y1="512.8" x2="345.6" y2="512.8" stroke="#111" stroke-width="1.2"/>
<text x="338.7" y="515.1" font-size="9.6" text-anchor="end" font-weight="normal" fill="#1c1c1c" stroke="#1c1c1c" stroke-width="0.18">0</text>
<line x1="341.8" y1="485.92" x2="345.6" y2="485.92" stroke="#111" stroke-width="1.2"/>
<text x="338.7" y="488.22" font-size="9.6" text-anchor="end" font-weight="normal" fill="#1c1c1c" stroke="#1c1c1c" stroke-width="0.18">1000</text>
<line x1="341.8" y1="459.04" x2="345.6" y2="459.04" stroke="#111" stroke-width="1.2"/>
<text x="338.7" y="461.34" font-size="9.6" text-anchor="end" font-weight="normal" fill="#1c1c1c" stroke="#1c1c1c" stroke-width="0.18">2000</text>
<line x1="341.8" y1="432.16" x2="345.6" y2="432.16" stroke="#111" stroke-width="1.2"/>
<text x="338.7" y="434.46" font-size="9.6" text-anchor="end" font-weight="normal" fill="#1c1c1c" stroke="#1c1c1c" stroke-width="0.18">3000</text>
<line x1="341.8" y1="405.28" x2="345.6" y2="405.28" stroke="#111" stroke-width="1.2"/>
<text x="338.7" y="407.58" font-size="9.6" text-anchor="end" font-weight="normal" fill="#1c1c1c" stroke="#1c1c1c" stroke-width="0.18">4000</text>
<line x1="344.9" y1="512.8" x2="464.7" y2="512.8" stroke="#111" stroke-width="1.5"/>
<line x1="360.6" y1="512.8" x2="360.6" y2="516.4" stroke="#111" stroke-width="1.2"/>
<line x1="390.1" y1="512.8" x2="390.1" y2="516.4" stroke="#111" stroke-width="1.2"/>
<line x1="419.4" y1="512.8" x2="419.4" y2="516.4" stroke="#111" stroke-width="1.2"/>
<line x1="449.2" y1="512.8" x2="449.2" y2="516.4" stroke="#111" stroke-width="1.2"/>
<text transform="translate(309,457.4) rotate(-90)" x="0" y="0" font-size="11.8" text-anchor="middle" font-weight="normal" fill="#1c1c1c" textLength="44.5" lengthAdjust="spacingAndGlyphs" stroke="#1c1c1c" stroke-width="0.45">MFI perforin</text>
<line x1="411.5" y1="410.4" x2="438.5" y2="410.4" stroke="#484848" stroke-width="1.5"/>
<polygon points="423.2,403.45 423.77,404.42 424.86,404.66 424.12,405.5 424.23,406.62 423.2,406.16 422.17,406.62 422.28,405.5 421.54,404.66 422.63,404.42" fill="#111"/>
<polygon points="426.8,403.45 427.37,404.42 428.46,404.66 427.72,405.5 427.83,406.62 426.8,406.16 425.77,406.62 425.88,405.5 425.14,404.66 426.23,404.42" fill="#111"/>
<circle cx="360.6" cy="440.4" r="2.25" fill="#1d3a7e"/>
<circle cx="360.6" cy="460.5" r="2.25" fill="#1d3a7e"/>
<circle cx="360.6" cy="476.9" r="2.25" fill="#1d3a7e"/>
<line x1="360.6" y1="448.5" x2="360.6" y2="469.7" stroke="#1d3a7e" stroke-width="1.3"/>
<line x1="355.7" y1="448.5" x2="365.5" y2="448.5" stroke="#1d3a7e" stroke-width="1.3"/>
<line x1="355.7" y1="469.7" x2="365.5" y2="469.7" stroke="#1d3a7e" stroke-width="1.3"/>
<line x1="350.9" y1="459.3" x2="370.3" y2="459.3" stroke="#1d3a7e" stroke-width="1.3"/>
<circle cx="390.1" cy="447.3" r="2.25" fill="#fff" stroke="#1d3a7e" stroke-width="1.25"/>
<circle cx="390.1" cy="458.9" r="2.25" fill="#fff" stroke="#1d3a7e" stroke-width="1.25"/>
<circle cx="390.1" cy="469.7" r="2.25" fill="#fff" stroke="#1d3a7e" stroke-width="1.25"/>
<line x1="390.1" y1="451.9" x2="390.1" y2="465.1" stroke="#1d3a7e" stroke-width="1.3"/>
<line x1="385.2" y1="451.9" x2="395" y2="451.9" stroke="#1d3a7e" stroke-width="1.3"/>
<line x1="385.2" y1="465.1" x2="395" y2="465.1" stroke="#1d3a7e" stroke-width="1.3"/>
<line x1="380.4" y1="458.4" x2="399.8" y2="458.4" stroke="#1d3a7e" stroke-width="1.3"/>
<rect x="417.6" y="438.7" width="4.2" height="4.2" fill="#a8062f"/>
<rect x="412.5" y="463.2" width="4.2" height="4.2" fill="#a8062f"/>
<rect x="422.7" y="465.5" width="4.2" height="4.2" fill="#a8062f"/>
<line x1="419.4" y1="449.2" x2="419.4" y2="466.9" stroke="#a8062f" stroke-width="1.3"/>
<line x1="414.5" y1="449.2" x2="424.3" y2="449.2" stroke="#a8062f" stroke-width="1.3"/>
<line x1="414.5" y1="466.9" x2="424.3" y2="466.9" stroke="#a8062f" stroke-width="1.3"/>
<line x1="409.7" y1="457.7" x2="429.1" y2="457.7" stroke="#a8062f" stroke-width="1.3"/>
<rect x="447.2" y="417.3" width="4.6" height="4.6" fill="#fff" stroke="#a8062f" stroke-width="1.25"/>
<rect x="442.3" y="442.2" width="4.6" height="4.6" fill="#fff" stroke="#a8062f" stroke-width="1.25"/>
<rect x="451.8" y="447.3" width="4.6" height="4.6" fill="#fff" stroke="#a8062f" stroke-width="1.25"/>
<line x1="449.2" y1="428.8" x2="449.2" y2="447.3" stroke="#a8062f" stroke-width="1.3"/>
<line x1="444.3" y1="428.8" x2="454.1" y2="428.8" stroke="#a8062f" stroke-width="1.3"/>
<line x1="444.3" y1="447.3" x2="454.1" y2="447.3" stroke="#a8062f" stroke-width="1.3"/>
<line x1="439.5" y1="438.1" x2="458.9" y2="438.1" stroke="#a8062f" stroke-width="1.3"/>
<text transform="translate(365.6,523.6) rotate(-45)" x="0" y="0" font-size="9.9" text-anchor="end" font-weight="normal" fill="#1c1c1c" textLength="56.69" lengthAdjust="spacingAndGlyphs">iRC9-&#916;CD19</text>
<text transform="translate(395.1,523.6) rotate(-45)" x="0" y="0" font-size="9.9" text-anchor="end" font-weight="normal" fill="#1c1c1c" textLength="75.69" lengthAdjust="spacingAndGlyphs">iRC9-&#916;CD19 Rim</text>
<text transform="translate(424.4,523.6) rotate(-45)" x="0" y="0" font-size="9.9" text-anchor="end" font-weight="normal" fill="#1c1c1c" textLength="77.49" lengthAdjust="spacingAndGlyphs">iRC9-&#916;CD19-iMC</text>
<text transform="translate(454.2,523.6) rotate(-45)" x="0" y="0" font-size="9.9" text-anchor="end" font-weight="normal" fill="#1c1c1c" textLength="96.29" lengthAdjust="spacingAndGlyphs">iRC9-&#916;CD19-iMC Rim</text>
<text x="291.6" y="611.7" font-size="14.2" text-anchor="start" font-weight="bold" fill="#000" stroke="#000" stroke-width="0.3">I</text>
<line x1="345.6" y1="633.5" x2="345.6" y2="741.9" stroke="#111" stroke-width="1.5"/>
<line x1="341.8" y1="741.2" x2="345.6" y2="741.2" stroke="#111" stroke-width="1.2"/>
<text x="338.7" y="743.5" font-size="9.6" text-anchor="end" font-weight="normal" fill="#1c1c1c" stroke="#1c1c1c" stroke-width="0.18">0</text>
<line x1="341.8" y1="706.4" x2="345.6" y2="706.4" stroke="#111" stroke-width="1.2"/>
<text x="338.7" y="708.7" font-size="9.6" text-anchor="end" font-weight="normal" fill="#1c1c1c" stroke="#1c1c1c" stroke-width="0.18">100000</text>
<line x1="341.8" y1="671.6" x2="345.6" y2="671.6" stroke="#111" stroke-width="1.2"/>
<text x="338.7" y="673.9" font-size="9.6" text-anchor="end" font-weight="normal" fill="#1c1c1c" stroke="#1c1c1c" stroke-width="0.18">200000</text>
<line x1="341.8" y1="636.8" x2="345.6" y2="636.8" stroke="#111" stroke-width="1.2"/>
<text x="338.7" y="639.1" font-size="9.6" text-anchor="end" font-weight="normal" fill="#1c1c1c" stroke="#1c1c1c" stroke-width="0.18">300000</text>
<line x1="344.9" y1="741.2" x2="461.3" y2="741.2" stroke="#111" stroke-width="1.5"/>
<line x1="360.3" y1="741.2" x2="360.3" y2="744.8" stroke="#111" stroke-width="1.2"/>
<line x1="388.8" y1="741.2" x2="388.8" y2="744.8" stroke="#111" stroke-width="1.2"/>
<line x1="417.8" y1="741.2" x2="417.8" y2="744.8" stroke="#111" stroke-width="1.2"/>
<line x1="446.5" y1="741.2" x2="446.5" y2="744.8" stroke="#111" stroke-width="1.2"/>
<text transform="translate(297,685.6) rotate(-90)" x="0" y="0" font-size="11.8" text-anchor="middle" font-weight="normal" fill="#1c1c1c" textLength="60.3" lengthAdjust="spacingAndGlyphs" stroke="#1c1c1c" stroke-width="0.45">MFI Granzyme B</text>
<line x1="413.3" y1="640.3" x2="440.8" y2="640.3" stroke="#484848" stroke-width="1.5"/>
<polygon points="427.05,632.75 427.62,633.72 428.71,633.96 427.97,634.8 428.08,635.92 427.05,635.46 426.02,635.92 426.13,634.8 425.39,633.96 426.48,633.72" fill="#111"/>
<circle cx="355" cy="708" r="2.25" fill="#1d3a7e"/>
<circle cx="365" cy="713.8" r="2.25" fill="#1d3a7e"/>
<circle cx="360" cy="728" r="2.25" fill="#1d3a7e"/>
<line x1="360.3" y1="710.5" x2="360.3" y2="722.5" stroke="#1d3a7e" stroke-width="1.3"/>
<line x1="355.4" y1="710.5" x2="365.2" y2="710.5" stroke="#1d3a7e" stroke-width="1.3"/>
<line x1="355.4" y1="722.5" x2="365.2" y2="722.5" stroke="#1d3a7e" stroke-width="1.3"/>
<line x1="350.6" y1="716.5" x2="370" y2="716.5" stroke="#1d3a7e" stroke-width="1.3"/>
<circle cx="388.8" cy="710" r="2.25" fill="#fff" stroke="#1d3a7e" stroke-width="1.25"/>
<circle cx="388.8" cy="719.3" r="2.25" fill="#fff" stroke="#1d3a7e" stroke-width="1.25"/>
<circle cx="388.8" cy="726.8" r="2.25" fill="#fff" stroke="#1d3a7e" stroke-width="1.25"/>
<line x1="388.8" y1="714.3" x2="388.8" y2="723.3" stroke="#1d3a7e" stroke-width="1.3"/>
<line x1="383.9" y1="714.3" x2="393.7" y2="714.3" stroke="#1d3a7e" stroke-width="1.3"/>
<line x1="383.9" y1="723.3" x2="393.7" y2="723.3" stroke="#1d3a7e" stroke-width="1.3"/>
<line x1="379.1" y1="718.8" x2="398.5" y2="718.8" stroke="#1d3a7e" stroke-width="1.3"/>
<rect x="415.5" y="666.2" width="4.2" height="4.2" fill="#a8062f"/>
<rect x="410.5" y="702.9" width="4.2" height="4.2" fill="#a8062f"/>
<rect x="420.5" y="704.7" width="4.2" height="4.2" fill="#a8062f"/>
<line x1="417.8" y1="680.8" x2="417.8" y2="705.5" stroke="#a8062f" stroke-width="1.3"/>
<line x1="412.9" y1="680.8" x2="422.7" y2="680.8" stroke="#a8062f" stroke-width="1.3"/>
<line x1="412.9" y1="705.5" x2="422.7" y2="705.5" stroke="#a8062f" stroke-width="1.3"/>
<line x1="408.1" y1="693.3" x2="427.5" y2="693.3" stroke="#a8062f" stroke-width="1.3"/>
<rect x="444.2" y="645.5" width="4.6" height="4.6" fill="#fff" stroke="#a8062f" stroke-width="1.25"/>
<rect x="439.2" y="689.2" width="4.6" height="4.6" fill="#fff" stroke="#a8062f" stroke-width="1.25"/>
<rect x="449.2" y="693.5" width="4.6" height="4.6" fill="#fff" stroke="#a8062f" stroke-width="1.25"/>
<line x1="446.5" y1="663" x2="446.5" y2="693.8" stroke="#a8062f" stroke-width="1.3"/>
<line x1="441.6" y1="663" x2="451.4" y2="663" stroke="#a8062f" stroke-width="1.3"/>
<line x1="441.6" y1="693.8" x2="451.4" y2="693.8" stroke="#a8062f" stroke-width="1.3"/>
<line x1="436.8" y1="678.3" x2="456.2" y2="678.3" stroke="#a8062f" stroke-width="1.3"/>
<text transform="translate(365.3,752) rotate(-45)" x="0" y="0" font-size="9.9" text-anchor="end" font-weight="normal" fill="#1c1c1c" textLength="56.69" lengthAdjust="spacingAndGlyphs">iRC9-&#916;CD19</text>
<text transform="translate(393.8,752) rotate(-45)" x="0" y="0" font-size="9.9" text-anchor="end" font-weight="normal" fill="#1c1c1c" textLength="75.69" lengthAdjust="spacingAndGlyphs">iRC9-&#916;CD19 Rim</text>
<text transform="translate(422.8,752) rotate(-45)" x="0" y="0" font-size="9.9" text-anchor="end" font-weight="normal" fill="#1c1c1c" textLength="77.49" lengthAdjust="spacingAndGlyphs">iRC9-&#916;CD19-iMC</text>
<text transform="translate(451.5,752) rotate(-45)" x="0" y="0" font-size="9.9" text-anchor="end" font-weight="normal" fill="#1c1c1c" textLength="96.29" lengthAdjust="spacingAndGlyphs">iRC9-&#916;CD19-iMC Rim</text>
<rect x="0" y="0" width="520" height="1.2" fill="#000"/>
<rect x="0" y="0" width="1.5" height="827" fill="#000"/>
<rect x="518.2" y="0" width="1.8" height="827" fill="#000"/>
<rect x="0" y="825.4" width="520" height="1.6" fill="#000"/>
</svg>
</body></html>
